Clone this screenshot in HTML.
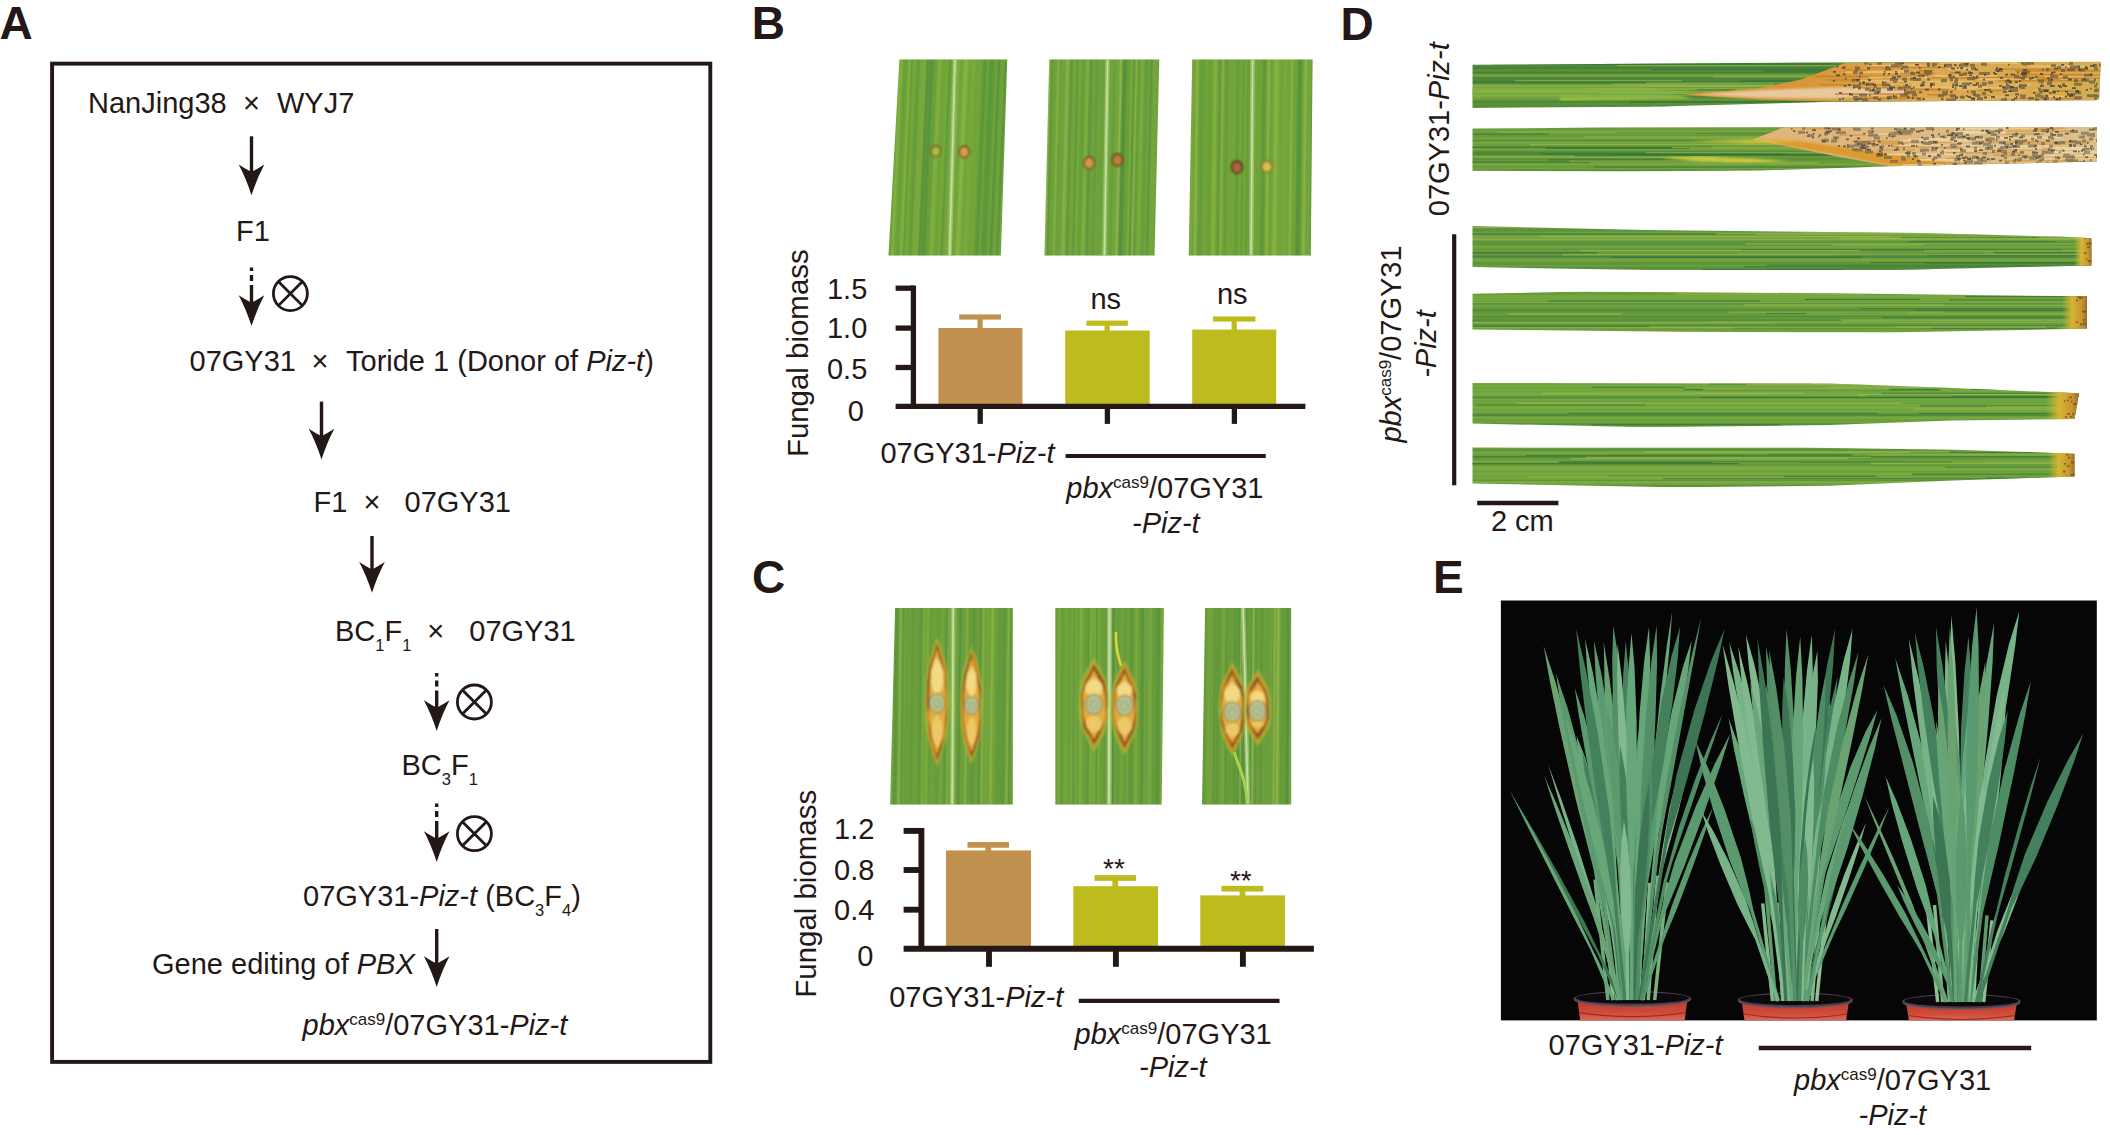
<!DOCTYPE html>
<html lang="en">
<head>
<meta charset="utf-8">
<title>Figure</title>
<style>
html,body{margin:0;padding:0;background:#fff;}
body{width:2110px;height:1135px;overflow:hidden;}
svg{display:block;}
text{font-family:"Liberation Sans",sans-serif;fill:#231815;}
.pl{font-weight:bold;font-size:46px;}
</style>
</head>
<body>
<svg width="2110" height="1135" viewBox="0 0 2110 1135">
<rect x="0" y="0" width="2110" height="1135" fill="#ffffff"/>
<defs><filter id="soft" x="-10%" y="-10%" width="120%" height="120%"><feGaussianBlur stdDeviation="0.9"/></filter>
<filter id="soft2" x="-5%" y="-5%" width="110%" height="110%"><feGaussianBlur stdDeviation="0.45"/></filter></defs>
<g id="panel-letters"><text class="pl" x="-0.6" y="39">A</text><text class="pl" x="751.8" y="38.9">B</text><text class="pl" x="752" y="592.8">C</text><text class="pl" x="1340.5" y="39.5">D</text><text class="pl" x="1433" y="593.4">E</text></g>
<g id="panelA"><rect x="52.1" y="63.65" width="658.2" height="998.25" fill="none" stroke="#231815" stroke-width="3.9"/><text x="88" y="113.3" font-size="29" text-anchor="start" >NanJing38</text><text x="251.4" y="112.6" font-size="29" text-anchor="middle" >×</text><text x="277" y="113.3" font-size="29" text-anchor="start" >WYJ7</text><path d="M251.5 136.3V173.0" stroke="#231815" stroke-width="3.4" fill="none"/><path d="M251.5 195.3Q245.9 178.10000000000002 238.7 164.60000000000002Q245.5 169.0 251.5 172.0Q257.5 169.0 264.3 164.60000000000002Q257.1 178.10000000000002 251.5 195.3Z" fill="#231815"/><text x="236" y="241" font-size="29" text-anchor="start" >F1</text><path d="M251.5 267.4V270.9M251.5 275.0V281.0M251.5 284.9V303.7" stroke="#231815" stroke-width="3.4" fill="none"/><path d="M251.5 326Q245.9 308.8 238.7 295.3Q245.5 299.7 251.5 302.7Q257.5 299.7 264.3 295.3Q257.1 308.8 251.5 326Z" fill="#231815"/><circle cx="290.4" cy="293.6" r="17.0" fill="none" stroke="#231815" stroke-width="2.8"/><path d="M278.3793 281.57930000000005L302.42069999999995 305.6207M302.42069999999995 281.57930000000005L278.3793 305.6207" stroke="#231815" stroke-width="2.8" fill="none"/><text x="189.5" y="371.4" font-size="29" text-anchor="start" >07GY31</text><text x="320" y="371.2" font-size="29" text-anchor="middle" >×</text><text x="346" y="371.4" font-size="29" text-anchor="start" >Toride 1 (Donor of <tspan font-style="italic">Piz-t</tspan>)</text><path d="M321.5 401.6V437.2" stroke="#231815" stroke-width="3.4" fill="none"/><path d="M321.5 459.5Q315.9 442.3 308.7 428.8Q315.5 433.2 321.5 436.2Q327.5 433.2 334.3 428.8Q327.1 442.3 321.5 459.5Z" fill="#231815"/><text x="313.5" y="512" font-size="29" text-anchor="start" >F1</text><text x="372" y="512" font-size="29" text-anchor="middle" >×</text><text x="404.5" y="512" font-size="29" text-anchor="start" >07GY31</text><path d="M372 536V570.4000000000001" stroke="#231815" stroke-width="3.4" fill="none"/><path d="M372 592.7Q366.4 575.5 359.2 562.0Q366 566.4000000000001 372 569.4000000000001Q378 566.4000000000001 384.8 562.0Q377.6 575.5 372 592.7Z" fill="#231815"/><text x="335" y="641.4" font-size="29" text-anchor="start" >BC<tspan font-size="16.5" dy="10">1</tspan><tspan dy="-10">F</tspan><tspan font-size="16.5" dy="10">1</tspan><tspan dy="-10"></tspan></text><text x="435.7" y="641.4" font-size="29" text-anchor="middle" >×</text><text x="469.3" y="641.4" font-size="29" text-anchor="start" >07GY31</text><path d="M436.7 673V676.5M436.7 680.6V686.6M436.7 690.5V708.7" stroke="#231815" stroke-width="3.4" fill="none"/><path d="M436.7 731Q431.09999999999997 713.8 423.9 700.3Q430.7 704.7 436.7 707.7Q442.7 704.7 449.5 700.3Q442.3 713.8 436.7 731Z" fill="#231815"/><circle cx="474.4" cy="702" r="17.0" fill="none" stroke="#231815" stroke-width="2.8"/><path d="M462.3793 689.9793L486.42069999999995 714.0207M486.42069999999995 689.9793L462.3793 714.0207" stroke="#231815" stroke-width="2.8" fill="none"/><text x="401.5" y="775" font-size="29" text-anchor="start" >BC<tspan font-size="16.5" dy="10">3</tspan><tspan dy="-10">F</tspan><tspan font-size="16.5" dy="10">1</tspan><tspan dy="-10"></tspan></text><path d="M436.7 803.5V807.0M436.7 811.1V817.1M436.7 821.0V839.7" stroke="#231815" stroke-width="3.4" fill="none"/><path d="M436.7 862Q431.09999999999997 844.8 423.9 831.3Q430.7 835.7 436.7 838.7Q442.7 835.7 449.5 831.3Q442.3 844.8 436.7 862Z" fill="#231815"/><circle cx="474.4" cy="833.7" r="17.0" fill="none" stroke="#231815" stroke-width="2.8"/><path d="M462.3793 821.6793L486.42069999999995 845.7207000000001M486.42069999999995 821.6793L462.3793 845.7207000000001" stroke="#231815" stroke-width="2.8" fill="none"/><text x="303" y="905.5" font-size="29" text-anchor="start" >07GY31-<tspan font-style="italic">Piz-t</tspan> (BC<tspan font-size="16.5" dy="10">3</tspan><tspan dy="-10">F</tspan><tspan font-size="16.5" dy="10">4</tspan><tspan dy="-10">)</tspan></text><path d="M436.7 929V964.7" stroke="#231815" stroke-width="3.4" fill="none"/><path d="M436.7 987Q431.09999999999997 969.8 423.9 956.3Q430.7 960.7 436.7 963.7Q442.7 960.7 449.5 956.3Q442.3 969.8 436.7 987Z" fill="#231815"/><text x="152" y="974.2" font-size="29" text-anchor="start" >Gene editing of <tspan font-style="italic">PBX</tspan></text><text x="302.5" y="1034.5" font-size="29" text-anchor="start" ><tspan font-style="italic">pbx</tspan><tspan font-size="17" dy="-10">cas9</tspan><tspan dy="10">/07GY31-</tspan><tspan font-style="italic">Piz-t</tspan></text></g>
<g id="panelB"><defs><linearGradient id="sg1" x1="0" y1="0" x2="1" y2="0"><stop offset="0.000" stop-color="#6ba039"/><stop offset="0.016" stop-color="#76a73b"/><stop offset="0.031" stop-color="#77a93b"/><stop offset="0.047" stop-color="#6ba139"/><stop offset="0.062" stop-color="#61993b"/><stop offset="0.078" stop-color="#6ba039"/><stop offset="0.094" stop-color="#7baa3e"/><stop offset="0.109" stop-color="#6ca139"/><stop offset="0.125" stop-color="#6ea338"/><stop offset="0.141" stop-color="#5d973c"/><stop offset="0.156" stop-color="#6ea338"/><stop offset="0.172" stop-color="#84b142"/><stop offset="0.188" stop-color="#70a438"/><stop offset="0.203" stop-color="#689e39"/><stop offset="0.219" stop-color="#70a438"/><stop offset="0.234" stop-color="#84b142"/><stop offset="0.250" stop-color="#659c39"/><stop offset="0.266" stop-color="#77a93b"/><stop offset="0.281" stop-color="#6da238"/><stop offset="0.297" stop-color="#619a3b"/><stop offset="0.312" stop-color="#75a73a"/><stop offset="0.328" stop-color="#77a83b"/><stop offset="0.344" stop-color="#7aaa3c"/><stop offset="0.359" stop-color="#58933c"/><stop offset="0.375" stop-color="#5f983c"/><stop offset="0.391" stop-color="#58923c"/><stop offset="0.406" stop-color="#689f39"/><stop offset="0.422" stop-color="#6a9f39"/><stop offset="0.438" stop-color="#82ae41"/><stop offset="0.453" stop-color="#7bac3d"/><stop offset="0.469" stop-color="#6ea238"/><stop offset="0.484" stop-color="#71a538"/><stop offset="0.500" stop-color="#77a83b"/><stop offset="0.516" stop-color="#5f983b"/><stop offset="0.531" stop-color="#73a639"/><stop offset="0.547" stop-color="#77a93b"/><stop offset="0.562" stop-color="#70a438"/><stop offset="0.578" stop-color="#82ae41"/><stop offset="0.594" stop-color="#6ea238"/><stop offset="0.609" stop-color="#75a83b"/><stop offset="0.625" stop-color="#89b544"/><stop offset="0.641" stop-color="#7ead3f"/><stop offset="0.656" stop-color="#6fa338"/><stop offset="0.672" stop-color="#77a83c"/><stop offset="0.688" stop-color="#78a93b"/><stop offset="0.703" stop-color="#71a538"/><stop offset="0.719" stop-color="#71a539"/><stop offset="0.734" stop-color="#73a63a"/><stop offset="0.750" stop-color="#639b39"/><stop offset="0.766" stop-color="#5b953c"/><stop offset="0.781" stop-color="#70a438"/><stop offset="0.797" stop-color="#5e983c"/><stop offset="0.812" stop-color="#5c963b"/><stop offset="0.828" stop-color="#639b3b"/><stop offset="0.844" stop-color="#71a538"/><stop offset="0.859" stop-color="#55913c"/><stop offset="0.875" stop-color="#6ca139"/><stop offset="0.891" stop-color="#70a438"/><stop offset="0.906" stop-color="#59933c"/><stop offset="0.922" stop-color="#73a639"/><stop offset="0.938" stop-color="#5e983c"/><stop offset="0.953" stop-color="#77a93b"/><stop offset="0.969" stop-color="#70a438"/><stop offset="0.984" stop-color="#6aa039"/><stop offset="1.000" stop-color="#71a538"/></linearGradient><clipPath id="cp2"><path d="M899.4 59.2L1007.3 59.2L1000.8 255.8L888.5 255.8Z"/></clipPath></defs><g clip-path="url(#cp2)"><g transform="translate(0 59.2) skewX(-2.53) translate(0 -59.2)"><rect x="876.5" y="59.2" width="142.79999999999995" height="196.60000000000002" fill="url(#sg1)"/></g><path d="M955 59.2L949.6 255.8" stroke="#b4d58c" stroke-width="4.4" opacity=".55"/><path d="M955 59.2L949.6 255.8" stroke="#cfe3a8" stroke-width="1.54" opacity=".9"/><g filter="url(#soft)"><ellipse cx="935.8" cy="151.2" rx="5.6" ry="6.2" fill="#7a5a22"/><ellipse cx="935.8" cy="151.5" rx="3.9999999999999996" ry="4.5" fill="#a6c03c"/></g><g filter="url(#soft)"><ellipse cx="964.2" cy="151.6" rx="5.8" ry="6.4" fill="#7a4a20"/><ellipse cx="964.2" cy="151.9" rx="4.199999999999999" ry="4.7" fill="#d2a04c"/></g></g><defs><linearGradient id="sg3" x1="0" y1="0" x2="1" y2="0"><stop offset="0.000" stop-color="#689d3a"/><stop offset="0.016" stop-color="#7daa41"/><stop offset="0.031" stop-color="#77a83c"/><stop offset="0.047" stop-color="#6a9f3a"/><stop offset="0.062" stop-color="#689d3b"/><stop offset="0.078" stop-color="#6da13a"/><stop offset="0.094" stop-color="#6fa23b"/><stop offset="0.109" stop-color="#649b3a"/><stop offset="0.125" stop-color="#90b54a"/><stop offset="0.141" stop-color="#5c963d"/><stop offset="0.156" stop-color="#6da13a"/><stop offset="0.172" stop-color="#6da13b"/><stop offset="0.188" stop-color="#83b043"/><stop offset="0.203" stop-color="#6b9f3a"/><stop offset="0.219" stop-color="#6fa23b"/><stop offset="0.234" stop-color="#6ea23b"/><stop offset="0.250" stop-color="#88b046"/><stop offset="0.266" stop-color="#7bab3e"/><stop offset="0.281" stop-color="#5b953d"/><stop offset="0.297" stop-color="#70a33b"/><stop offset="0.312" stop-color="#74a53e"/><stop offset="0.328" stop-color="#60983c"/><stop offset="0.344" stop-color="#79a93f"/><stop offset="0.359" stop-color="#6ca03a"/><stop offset="0.375" stop-color="#659c3a"/><stop offset="0.391" stop-color="#7dac3e"/><stop offset="0.406" stop-color="#7cab3e"/><stop offset="0.422" stop-color="#5a943c"/><stop offset="0.438" stop-color="#6ca03a"/><stop offset="0.453" stop-color="#6fa23b"/><stop offset="0.469" stop-color="#659b3b"/><stop offset="0.484" stop-color="#70a33c"/><stop offset="0.500" stop-color="#6ea13b"/><stop offset="0.516" stop-color="#6ca03a"/><stop offset="0.531" stop-color="#73a53c"/><stop offset="0.547" stop-color="#6ca03a"/><stop offset="0.562" stop-color="#70a33b"/><stop offset="0.578" stop-color="#71a43b"/><stop offset="0.594" stop-color="#669c3b"/><stop offset="0.609" stop-color="#73a53d"/><stop offset="0.625" stop-color="#74a53d"/><stop offset="0.641" stop-color="#93b64b"/><stop offset="0.656" stop-color="#59933c"/><stop offset="0.672" stop-color="#55903d"/><stop offset="0.688" stop-color="#699e3a"/><stop offset="0.703" stop-color="#6a9f3a"/><stop offset="0.719" stop-color="#7cab3e"/><stop offset="0.734" stop-color="#5b943c"/><stop offset="0.750" stop-color="#88b046"/><stop offset="0.766" stop-color="#649b3a"/><stop offset="0.781" stop-color="#6fa23b"/><stop offset="0.797" stop-color="#7ead3e"/><stop offset="0.812" stop-color="#699e3b"/><stop offset="0.828" stop-color="#679c3b"/><stop offset="0.844" stop-color="#70a33b"/><stop offset="0.859" stop-color="#5c963d"/><stop offset="0.875" stop-color="#73a43d"/><stop offset="0.891" stop-color="#76a63e"/><stop offset="0.906" stop-color="#6fa23b"/><stop offset="0.922" stop-color="#679d3b"/><stop offset="0.938" stop-color="#6ba03a"/><stop offset="0.953" stop-color="#679d3b"/><stop offset="0.969" stop-color="#6ea23b"/><stop offset="0.984" stop-color="#73a53b"/><stop offset="1.000" stop-color="#5c953c"/></linearGradient><clipPath id="cp4"><path d="M1049.2 59.2L1159.3 59.2L1154.5 255.8L1044.4 255.8Z"/></clipPath></defs><g clip-path="url(#cp4)"><g transform="translate(0 59.2) skewX(-1.40) translate(0 -59.2)"><rect x="1032.4" y="59.2" width="138.89999999999986" height="196.60000000000002" fill="url(#sg3)"/></g><path d="M1107.6 59.2L1104.4 255.8" stroke="#b4d58c" stroke-width="4.4" opacity=".55"/><path d="M1107.6 59.2L1104.4 255.8" stroke="#cfe3a8" stroke-width="1.54" opacity=".9"/><g filter="url(#soft)"><ellipse cx="1089.1" cy="162.7" rx="6" ry="6.8" fill="#7a4a20"/><ellipse cx="1089.1" cy="163.0" rx="4.4" ry="5.1" fill="#cf9a46"/></g><g filter="url(#soft)"><ellipse cx="1117.4" cy="159.9" rx="6" ry="6.8" fill="#6a3f1c"/><ellipse cx="1117.4" cy="160.20000000000002" rx="4.4" ry="5.1" fill="#b8803c"/></g></g><defs><linearGradient id="sg5" x1="0" y1="0" x2="1" y2="0"><stop offset="0.000" stop-color="#86b243"/><stop offset="0.016" stop-color="#6ea138"/><stop offset="0.031" stop-color="#70a238"/><stop offset="0.047" stop-color="#6da038"/><stop offset="0.062" stop-color="#80ae3e"/><stop offset="0.078" stop-color="#74a53a"/><stop offset="0.094" stop-color="#6ea138"/><stop offset="0.109" stop-color="#7aa83e"/><stop offset="0.125" stop-color="#70a338"/><stop offset="0.141" stop-color="#8eb448"/><stop offset="0.156" stop-color="#6da038"/><stop offset="0.172" stop-color="#649b39"/><stop offset="0.188" stop-color="#6ba039"/><stop offset="0.203" stop-color="#73a53a"/><stop offset="0.219" stop-color="#6ea138"/><stop offset="0.234" stop-color="#679d39"/><stop offset="0.250" stop-color="#78a93b"/><stop offset="0.266" stop-color="#85b142"/><stop offset="0.281" stop-color="#6ea138"/><stop offset="0.297" stop-color="#60983b"/><stop offset="0.312" stop-color="#88b044"/><stop offset="0.328" stop-color="#6fa238"/><stop offset="0.344" stop-color="#649b39"/><stop offset="0.359" stop-color="#75a63b"/><stop offset="0.375" stop-color="#72a439"/><stop offset="0.391" stop-color="#75a63b"/><stop offset="0.406" stop-color="#6b9f39"/><stop offset="0.422" stop-color="#659c39"/><stop offset="0.438" stop-color="#77a73b"/><stop offset="0.453" stop-color="#659c39"/><stop offset="0.469" stop-color="#75a73a"/><stop offset="0.484" stop-color="#669c39"/><stop offset="0.500" stop-color="#70a238"/><stop offset="0.516" stop-color="#6a9f39"/><stop offset="0.531" stop-color="#79a83d"/><stop offset="0.547" stop-color="#6fa238"/><stop offset="0.562" stop-color="#71a339"/><stop offset="0.578" stop-color="#6ca039"/><stop offset="0.594" stop-color="#5b943b"/><stop offset="0.609" stop-color="#6fa238"/><stop offset="0.625" stop-color="#8cb346"/><stop offset="0.641" stop-color="#6da138"/><stop offset="0.656" stop-color="#72a439"/><stop offset="0.672" stop-color="#88b343"/><stop offset="0.688" stop-color="#7fad3f"/><stop offset="0.703" stop-color="#72a439"/><stop offset="0.719" stop-color="#71a339"/><stop offset="0.734" stop-color="#79a93c"/><stop offset="0.750" stop-color="#73a539"/><stop offset="0.766" stop-color="#72a439"/><stop offset="0.781" stop-color="#8ab145"/><stop offset="0.797" stop-color="#6fa238"/><stop offset="0.812" stop-color="#70a339"/><stop offset="0.828" stop-color="#57923c"/><stop offset="0.844" stop-color="#5a943c"/><stop offset="0.859" stop-color="#75a63a"/><stop offset="0.875" stop-color="#8cb347"/><stop offset="0.891" stop-color="#70a238"/><stop offset="0.906" stop-color="#77a83c"/><stop offset="0.922" stop-color="#5d963c"/><stop offset="0.938" stop-color="#77a73c"/><stop offset="0.953" stop-color="#6da038"/><stop offset="0.969" stop-color="#61983a"/><stop offset="0.984" stop-color="#7cab3e"/><stop offset="1.000" stop-color="#84b042"/></linearGradient><clipPath id="cp6"><path d="M1192.2 59.2L1312.6 59.2L1310.8 255.8L1188.7 255.8Z"/></clipPath></defs><g clip-path="url(#cp6)"><g transform="translate(0 59.2) skewX(-0.77) translate(0 -59.2)"><rect x="1176.7" y="59.2" width="147.89999999999986" height="196.60000000000002" fill="url(#sg5)"/></g><path d="M1252.6 59.2L1251.1 255.8" stroke="#b4d58c" stroke-width="4.4" opacity=".55"/><path d="M1252.6 59.2L1251.1 255.8" stroke="#cfe3a8" stroke-width="1.54" opacity=".9"/><g filter="url(#soft)"><ellipse cx="1236.9" cy="167.1" rx="6.2" ry="6.8" fill="#5a2f1a"/><ellipse cx="1236.9" cy="167.4" rx="4.6" ry="5.1" fill="#a8683a"/></g><g filter="url(#soft)"><ellipse cx="1266.8" cy="166.4" rx="5.8" ry="6.4" fill="#8a7a2a"/><ellipse cx="1266.8" cy="166.70000000000002" rx="4.199999999999999" ry="4.7" fill="#d8c24a"/></g></g><rect x="938.4" y="328" width="84.0" height="78.39999999999998" fill="#C1924F"/><rect x="959.2" y="314.4" width="41.799999999999955" height="5.2" fill="#C1924F"/><rect x="977.5" y="317" width="5.2" height="12" fill="#C1924F"/><rect x="1065.2" y="330.5" width="84.5" height="75.89999999999998" fill="#BDBB1E"/><rect x="1086.5" y="320.59999999999997" width="41.299999999999955" height="5.2" fill="#BDBB1E"/><rect x="1104.5500000000002" y="323.2" width="5.2" height="8.300000000000011" fill="#BDBB1E"/><rect x="1192.2" y="329.6" width="84.0" height="76.79999999999995" fill="#BDBB1E"/><rect x="1213" y="316.4" width="42.40000000000009" height="5.2" fill="#BDBB1E"/><rect x="1231.6000000000001" y="319" width="5.2" height="11.600000000000023" fill="#BDBB1E"/><path d="M913.4 285.55V409.04999999999995M895.6 406.4H1305.4" stroke="#231815" stroke-width="5.3" fill="none"/><path d="M895.6 288.2H913.4" stroke="#231815" stroke-width="5.3"/><path d="M895.6 328.1H913.4" stroke="#231815" stroke-width="5.3"/><path d="M895.6 367.5H913.4" stroke="#231815" stroke-width="5.3"/><path d="M980.2 406.4V423.9" stroke="#231815" stroke-width="5.3"/><path d="M1107.4 406.4V423.9" stroke="#231815" stroke-width="5.3"/><path d="M1234.4 406.4V423.9" stroke="#231815" stroke-width="5.3"/><text x="1105.7" y="309" font-size="29" text-anchor="middle" >ns</text><text x="1232.2" y="304.4" font-size="29" text-anchor="middle" >ns</text><text x="867.3" y="299.3" font-size="29" text-anchor="end" >1.5</text><text x="867.3" y="338.2" font-size="29" text-anchor="end" >1.0</text><text x="867.3" y="379.2" font-size="29" text-anchor="end" >0.5</text><text x="864" y="420.7" font-size="29" text-anchor="end" >0</text><text font-size="29.45" text-anchor="middle" transform="translate(808.3 353.2) rotate(-90)">Fungal biomass</text><text x="880.4" y="462.6" font-size="29" text-anchor="start" >07GY31-<tspan font-style="italic">Piz-t</tspan></text><path d="M1065.6 455.9H1265.8" stroke="#231815" stroke-width="4"/><text x="1066.3" y="498.3" font-size="29" text-anchor="start" ><tspan font-style="italic">pbx</tspan><tspan font-size="17" dy="-10">cas9</tspan><tspan dy="10">/07GY31</tspan></text><text x="1132" y="532.8" font-size="29" text-anchor="start" ><tspan font-style="italic">-Piz-t</tspan></text></g>
<g id="panelC"><defs><linearGradient id="sg7" x1="0" y1="0" x2="1" y2="0"><stop offset="0.000" stop-color="#669c3a"/><stop offset="0.016" stop-color="#8cb646"/><stop offset="0.031" stop-color="#6d9f3a"/><stop offset="0.047" stop-color="#6ea03a"/><stop offset="0.062" stop-color="#80ab42"/><stop offset="0.078" stop-color="#76a63d"/><stop offset="0.094" stop-color="#7aa73f"/><stop offset="0.109" stop-color="#75a43d"/><stop offset="0.125" stop-color="#5a933c"/><stop offset="0.141" stop-color="#679b3b"/><stop offset="0.156" stop-color="#87b244"/><stop offset="0.172" stop-color="#60983c"/><stop offset="0.188" stop-color="#70a13a"/><stop offset="0.203" stop-color="#689d3a"/><stop offset="0.219" stop-color="#6fa03a"/><stop offset="0.234" stop-color="#639a3a"/><stop offset="0.250" stop-color="#6b9e3a"/><stop offset="0.266" stop-color="#6da03a"/><stop offset="0.281" stop-color="#699d3b"/><stop offset="0.297" stop-color="#5c953d"/><stop offset="0.312" stop-color="#7aaa3d"/><stop offset="0.328" stop-color="#72a33b"/><stop offset="0.344" stop-color="#7eac3e"/><stop offset="0.359" stop-color="#639a3a"/><stop offset="0.375" stop-color="#6fa13a"/><stop offset="0.391" stop-color="#6d9f3a"/><stop offset="0.406" stop-color="#689d3b"/><stop offset="0.422" stop-color="#679c3a"/><stop offset="0.438" stop-color="#76a63c"/><stop offset="0.453" stop-color="#6fa13a"/><stop offset="0.469" stop-color="#5d963d"/><stop offset="0.484" stop-color="#7cab3e"/><stop offset="0.500" stop-color="#72a33b"/><stop offset="0.516" stop-color="#699d3b"/><stop offset="0.531" stop-color="#74a43d"/><stop offset="0.547" stop-color="#6fa13b"/><stop offset="0.562" stop-color="#57913d"/><stop offset="0.578" stop-color="#6d9f3a"/><stop offset="0.594" stop-color="#6c9f3a"/><stop offset="0.609" stop-color="#81ae42"/><stop offset="0.625" stop-color="#679c3b"/><stop offset="0.641" stop-color="#689c3b"/><stop offset="0.656" stop-color="#5c953d"/><stop offset="0.672" stop-color="#6a9e3a"/><stop offset="0.688" stop-color="#6d9f3a"/><stop offset="0.703" stop-color="#5a933c"/><stop offset="0.719" stop-color="#85ae45"/><stop offset="0.734" stop-color="#6fa03a"/><stop offset="0.750" stop-color="#76a53e"/><stop offset="0.766" stop-color="#6fa13a"/><stop offset="0.781" stop-color="#89b445"/><stop offset="0.797" stop-color="#71a23b"/><stop offset="0.812" stop-color="#6b9e3a"/><stop offset="0.828" stop-color="#61983c"/><stop offset="0.844" stop-color="#669c3a"/><stop offset="0.859" stop-color="#5e973c"/><stop offset="0.875" stop-color="#639a3a"/><stop offset="0.891" stop-color="#85b143"/><stop offset="0.906" stop-color="#5f963c"/><stop offset="0.922" stop-color="#6ea03a"/><stop offset="0.938" stop-color="#6b9f3a"/><stop offset="0.953" stop-color="#61983c"/><stop offset="0.969" stop-color="#77a63e"/><stop offset="0.984" stop-color="#679c3a"/><stop offset="1.000" stop-color="#6c9f3a"/></linearGradient><clipPath id="cp8"><path d="M895.1 608.1L1012.8 608.1L1012.8 804.7L890.1 804.7Z"/></clipPath></defs><g clip-path="url(#cp8)"><g transform="translate(0 608.1) skewX(-0.73) translate(0 -608.1)"><rect x="878.1" y="608.1" width="146.69999999999993" height="196.60000000000002" fill="url(#sg7)"/></g><path d="M953.2 608.1L952.2 804.7" stroke="#b4d58c" stroke-width="4.6" opacity=".55"/><path d="M953.2 608.1L952.2 804.7" stroke="#cfe3a8" stroke-width="1.68" opacity=".9"/><g filter="url(#soft)"><path d="M937.1 636.2L932.5 649.3L927.8 665.0L925.1 682.1L925.0 701.7L924.6 721.4L927.9 738.4L932.6 754.1L937.1 767.2L941.3 754.1L946.6 738.4L948.5 721.4L949.7 701.7L949.0 682.1L946.4 665.0L941.7 649.3L937.1 636.2Z" fill="#c9c238" opacity=".5"/><path d="M937.1 640.2L933.4 652.5L928.3 667.3L927.6 683.2L925.6 701.7L927.7 720.2L928.3 736.1L932.0 750.9L937.1 763.2L940.7 750.9L945.2 736.1L947.2 720.2L947.7 701.7L946.5 683.2L946.2 667.3L941.1 652.5L937.1 640.2Z" fill="#d98f24"/><path d="M937.1 643.2L933.6 654.9L928.9 668.9L926.9 684.2L926.9 701.7L928.4 719.2L929.8 734.5L934.5 748.5L937.1 760.2L941.8 748.5L943.9 734.5L946.7 719.2L945.6 701.7L946.5 684.2L944.1 668.9L940.4 654.9L937.1 643.2Z" fill="#8a5a24"/><path d="M937.1 649.2L933.6 659.7L930.9 672.3L929.6 686.0L929.3 701.7L928.6 717.5L931.2 731.1L933.8 743.7L937.1 754.2L940.5 743.7L944.2 731.1L945.4 717.5L945.7 701.7L945.2 686.0L944.0 672.3L939.7 659.7L937.1 649.2Z" fill="#e4ac3e"/><path d="M937.1 657.2L934.5 661.2L932.7 666.0L930.8 671.2L931.3 677.2L931.0 683.2L932.4 688.4L934.8 693.2L937.1 697.2L939.3 693.2L942.2 688.4L942.9 683.2L943.3 677.2L943.1 671.2L941.7 666.0L938.9 661.2L937.1 657.2Z" fill="#f3de8a" opacity=".9"/><path d="M937.1 713.2L935.2 716.7L932.3 720.9L932.4 725.5L931.6 730.7L931.8 736.0L933.2 740.5L935.4 744.7L937.1 748.2L938.9 744.7L941.4 740.5L943.0 736.0L942.1 730.7L942.5 725.5L941.6 720.9L938.4 716.7L937.1 713.2Z" fill="#efd070" opacity=".8"/><ellipse cx="937.1" cy="703.2" rx="7.9" ry="9.700000000000001" fill="#b7c08e" stroke="#6e6a44" stroke-width="1" stroke-opacity=".75"/><ellipse cx="937.1" cy="703.7" rx="3.555" ry="3.95" fill="none" stroke="#8d9c7c" stroke-width="1" stroke-opacity=".8"/></g><g filter="url(#soft)"><path d="M971.4 645.0L968.0 657.0L961.9 671.4L960.6 687.0L960.2 705.0L960.3 723.0L962.5 738.6L966.8 753.0L971.4 765.0L975.8 753.0L980.0 738.6L982.7 723.0L982.6 705.0L982.9 687.0L979.9 671.4L975.9 657.0L971.4 645.0Z" fill="#c9c238" opacity=".5"/><path d="M971.4 649.0L968.5 660.2L964.7 673.6L961.8 688.2L960.8 705.0L961.8 721.8L963.6 736.4L967.7 749.8L971.4 761.0L975.3 749.8L979.8 736.4L980.5 721.8L980.1 705.0L980.4 688.2L979.1 673.6L975.7 660.2L971.4 649.0Z" fill="#d98f24"/><path d="M971.4 652.0L967.7 662.6L964.0 675.3L962.7 689.1L962.9 705.0L963.6 720.9L965.0 734.7L968.6 747.4L971.4 758.0L975.6 747.4L979.3 734.7L980.8 720.9L979.5 705.0L981.3 689.1L977.5 675.3L973.3 662.6L971.4 652.0Z" fill="#8a5a24"/><path d="M971.4 658.0L968.6 667.4L966.2 678.7L964.4 690.9L963.8 705.0L964.0 719.1L965.5 731.3L968.2 742.6L971.4 752.0L975.0 742.6L977.9 731.3L979.5 719.1L979.0 705.0L979.1 690.9L976.8 678.7L974.8 667.4L971.4 658.0Z" fill="#e4ac3e"/><path d="M971.4 666.0L970.1 669.3L967.4 673.3L966.6 677.7L965.9 682.7L966.5 687.7L967.8 692.1L969.9 696.1L971.4 699.4L973.2 696.1L975.2 692.1L976.1 687.7L976.4 682.7L976.5 677.7L976.0 673.3L973.1 669.3L971.4 666.0Z" fill="#f3de8a" opacity=".9"/><path d="M971.4 715.4L970.4 718.5L967.8 722.1L967.1 726.1L966.6 730.7L966.9 735.3L967.9 739.3L970.0 742.9L971.4 746.0L973.5 742.9L974.5 739.3L976.4 735.3L975.6 730.7L976.0 726.1L975.0 722.1L973.2 718.5L971.4 715.4Z" fill="#efd070" opacity=".8"/><ellipse cx="971.4" cy="705.4" rx="7.1" ry="8.9" fill="#b7c08e" stroke="#6e6a44" stroke-width="1" stroke-opacity=".75"/><ellipse cx="971.4" cy="705.9" rx="3.195" ry="3.55" fill="none" stroke="#8d9c7c" stroke-width="1" stroke-opacity=".8"/></g></g><defs><linearGradient id="sg9" x1="0" y1="0" x2="1" y2="0"><stop offset="0.000" stop-color="#6ea13b"/><stop offset="0.016" stop-color="#6ea03b"/><stop offset="0.031" stop-color="#639a3a"/><stop offset="0.047" stop-color="#6da03a"/><stop offset="0.062" stop-color="#70a23b"/><stop offset="0.078" stop-color="#649b3a"/><stop offset="0.094" stop-color="#669b3b"/><stop offset="0.109" stop-color="#6fa23b"/><stop offset="0.125" stop-color="#7caa40"/><stop offset="0.141" stop-color="#639a3a"/><stop offset="0.156" stop-color="#6c9f3a"/><stop offset="0.172" stop-color="#74a53c"/><stop offset="0.188" stop-color="#70a23b"/><stop offset="0.203" stop-color="#689d3a"/><stop offset="0.219" stop-color="#77a83c"/><stop offset="0.234" stop-color="#60983c"/><stop offset="0.250" stop-color="#77a63f"/><stop offset="0.266" stop-color="#679c3b"/><stop offset="0.281" stop-color="#7eac41"/><stop offset="0.297" stop-color="#77a73d"/><stop offset="0.312" stop-color="#699d3a"/><stop offset="0.328" stop-color="#6a9e3a"/><stop offset="0.344" stop-color="#5c943c"/><stop offset="0.359" stop-color="#7eaa42"/><stop offset="0.375" stop-color="#71a23c"/><stop offset="0.391" stop-color="#79a93d"/><stop offset="0.406" stop-color="#5f973c"/><stop offset="0.422" stop-color="#79aa3d"/><stop offset="0.438" stop-color="#6c9f3a"/><stop offset="0.453" stop-color="#6a9e3a"/><stop offset="0.469" stop-color="#679c3b"/><stop offset="0.484" stop-color="#5f963c"/><stop offset="0.500" stop-color="#659b3a"/><stop offset="0.516" stop-color="#75a43e"/><stop offset="0.531" stop-color="#548f3d"/><stop offset="0.547" stop-color="#72a33d"/><stop offset="0.562" stop-color="#659b3a"/><stop offset="0.578" stop-color="#6a9e3a"/><stop offset="0.594" stop-color="#74a53c"/><stop offset="0.609" stop-color="#6c9f3a"/><stop offset="0.625" stop-color="#649b3a"/><stop offset="0.641" stop-color="#73a53c"/><stop offset="0.656" stop-color="#60983c"/><stop offset="0.672" stop-color="#5f973c"/><stop offset="0.688" stop-color="#6da03a"/><stop offset="0.703" stop-color="#7baa3d"/><stop offset="0.719" stop-color="#70a23c"/><stop offset="0.734" stop-color="#689c3b"/><stop offset="0.750" stop-color="#56913d"/><stop offset="0.766" stop-color="#6ea03b"/><stop offset="0.781" stop-color="#6d9f3a"/><stop offset="0.797" stop-color="#72a23d"/><stop offset="0.812" stop-color="#7baa40"/><stop offset="0.828" stop-color="#689c3b"/><stop offset="0.844" stop-color="#669c3a"/><stop offset="0.859" stop-color="#5e973c"/><stop offset="0.875" stop-color="#58923d"/><stop offset="0.891" stop-color="#76a73c"/><stop offset="0.906" stop-color="#76a53f"/><stop offset="0.922" stop-color="#80ab43"/><stop offset="0.938" stop-color="#7cab3e"/><stop offset="0.953" stop-color="#6da03a"/><stop offset="0.969" stop-color="#699d3a"/><stop offset="0.984" stop-color="#73a53c"/><stop offset="1.000" stop-color="#7fad41"/></linearGradient><clipPath id="cp10"><path d="M1055.3 608.1L1163.9 608.1L1161.7 804.7L1055.3 804.7Z"/></clipPath></defs><g clip-path="url(#cp10)"><g transform="translate(0 608.1) skewX(-0.32) translate(0 -608.1)"><rect x="1043.3" y="608.1" width="132.60000000000014" height="196.60000000000002" fill="url(#sg9)"/></g><path d="M1109.4 608.1L1109.0 804.7" stroke="#b4d58c" stroke-width="5.2" opacity=".55"/><path d="M1109.4 608.1L1109.0 804.7" stroke="#cfe3a8" stroke-width="2.0999999999999996" opacity=".9"/><path d="M1116 632C1115 650 1119 658 1121 666" stroke="#d8d63a" stroke-width="2.6" fill="none"/><g filter="url(#soft)"><path d="M1093.9 657.0L1088.5 666.5L1082.1 677.9L1079.6 690.2L1078.5 704.5L1079.1 718.8L1082.9 731.1L1088.5 742.5L1093.9 752.0L1099.7 742.5L1105.5 731.1L1108.1 718.8L1109.1 704.5L1107.9 690.2L1105.6 677.9L1099.0 666.5L1093.9 657.0Z" fill="#c9c238" opacity=".5"/><path d="M1093.9 661.0L1089.7 669.7L1083.9 680.1L1081.1 691.5L1081.2 704.5L1081.6 717.5L1083.3 728.9L1089.5 739.3L1093.9 748.0L1099.0 739.3L1103.2 728.9L1106.9 717.5L1106.1 704.5L1107.2 691.5L1104.9 680.1L1097.7 669.7L1093.9 661.0Z" fill="#d98f24"/><path d="M1093.9 664.0L1090.2 672.1L1084.8 681.8L1081.6 692.4L1081.5 704.5L1082.8 716.6L1083.4 727.2L1090.2 736.9L1093.9 745.0L1098.5 736.9L1102.8 727.2L1104.9 716.6L1107.2 704.5L1106.6 692.4L1104.5 681.8L1099.0 672.1L1093.9 664.0Z" fill="#8a5a24"/><path d="M1093.9 670.0L1090.4 676.9L1085.4 685.2L1083.0 694.1L1083.1 704.5L1083.5 714.9L1085.9 723.8L1089.9 732.1L1093.9 739.0L1097.6 732.1L1103.2 723.8L1105.3 714.9L1105.5 704.5L1104.7 694.1L1102.3 685.2L1097.3 676.9L1093.9 670.0Z" fill="#e4ac3e"/><path d="M1093.9 678.0L1091.4 680.0L1087.7 682.5L1085.8 685.1L1085.7 688.1L1085.2 691.2L1087.6 693.8L1090.0 696.3L1093.9 698.3L1097.6 696.3L1101.2 693.8L1101.8 691.2L1102.6 688.1L1102.0 685.1L1100.7 682.5L1097.4 680.0L1093.9 678.0Z" fill="#f3de8a" opacity=".9"/><path d="M1093.9 714.3L1091.1 716.2L1087.4 718.4L1086.5 720.8L1086.1 723.6L1086.4 726.5L1088.1 728.9L1090.8 731.1L1093.9 733.0L1097.6 731.1L1100.7 728.9L1101.5 726.5L1101.3 723.6L1101.2 720.8L1100.5 718.4L1096.2 716.2L1093.9 714.3Z" fill="#efd070" opacity=".8"/><ellipse cx="1093.9" cy="704.3" rx="8.4" ry="10.200000000000001" fill="#b7c08e" stroke="#6e6a44" stroke-width="1" stroke-opacity=".75"/><ellipse cx="1093.9" cy="704.8" rx="3.7800000000000002" ry="4.2" fill="none" stroke="#8d9c7c" stroke-width="1" stroke-opacity=".8"/></g><g filter="url(#soft)"><path d="M1124.6 660.2L1119.6 669.7L1113.8 681.1L1110.7 693.5L1111.4 707.7L1111.5 722.0L1113.9 734.3L1118.8 745.7L1124.6 755.2L1129.5 745.7L1135.1 734.3L1137.7 722.0L1138.6 707.7L1137.9 693.5L1134.9 681.1L1128.8 669.7L1124.6 660.2Z" fill="#c9c238" opacity=".5"/><path d="M1124.6 664.2L1119.9 672.9L1115.9 683.3L1113.5 694.7L1112.3 707.7L1113.4 720.8L1116.0 732.1L1120.1 742.5L1124.6 751.2L1129.6 742.5L1133.1 732.1L1137.0 720.8L1136.8 707.7L1135.7 694.7L1134.6 683.3L1129.5 672.9L1124.6 664.2Z" fill="#d98f24"/><path d="M1124.6 667.2L1120.8 675.3L1115.8 685.0L1114.7 695.6L1113.6 707.7L1114.7 719.9L1116.8 730.4L1120.3 740.1L1124.6 748.2L1128.8 740.1L1134.2 730.4L1135.7 719.9L1135.2 707.7L1136.4 695.6L1132.3 685.0L1127.6 675.3L1124.6 667.2Z" fill="#8a5a24"/><path d="M1124.6 673.2L1121.4 680.1L1116.4 688.4L1115.5 697.4L1114.1 707.7L1114.6 718.1L1116.9 727.0L1121.6 735.3L1124.6 742.2L1128.0 735.3L1132.0 727.0L1134.3 718.1L1134.6 707.7L1133.5 697.4L1132.0 688.4L1127.8 680.1L1124.6 673.2Z" fill="#e4ac3e"/><path d="M1124.6 681.2L1121.9 683.0L1118.9 685.2L1117.1 687.6L1116.9 690.3L1117.8 693.0L1118.2 695.4L1122.0 697.6L1124.6 699.4L1127.7 697.6L1130.1 695.4L1131.4 693.0L1132.1 690.3L1132.2 687.6L1130.2 685.2L1126.8 683.0L1124.6 681.2Z" fill="#f3de8a" opacity=".9"/><path d="M1124.6 715.4L1121.9 717.5L1118.9 720.0L1117.4 722.7L1118.2 725.8L1118.2 728.9L1118.7 731.6L1122.5 734.1L1124.6 736.2L1127.6 734.1L1129.7 731.6L1131.9 728.9L1132.0 725.8L1131.5 722.7L1129.9 720.0L1126.7 717.5L1124.6 715.4Z" fill="#efd070" opacity=".8"/><ellipse cx="1124.6" cy="705.4" rx="8.4" ry="10.200000000000001" fill="#b7c08e" stroke="#6e6a44" stroke-width="1" stroke-opacity=".75"/><ellipse cx="1124.6" cy="705.9" rx="3.7800000000000002" ry="4.2" fill="none" stroke="#8d9c7c" stroke-width="1" stroke-opacity=".8"/></g></g><defs><linearGradient id="sg11" x1="0" y1="0" x2="1" y2="0"><stop offset="0.000" stop-color="#6ea03b"/><stop offset="0.016" stop-color="#659a3a"/><stop offset="0.031" stop-color="#72a23b"/><stop offset="0.047" stop-color="#5f953c"/><stop offset="0.062" stop-color="#6b9d3a"/><stop offset="0.078" stop-color="#6f9f3c"/><stop offset="0.094" stop-color="#679a3a"/><stop offset="0.109" stop-color="#72a23d"/><stop offset="0.125" stop-color="#699b3a"/><stop offset="0.141" stop-color="#649a3a"/><stop offset="0.156" stop-color="#6fa03b"/><stop offset="0.172" stop-color="#76a63c"/><stop offset="0.188" stop-color="#71a13d"/><stop offset="0.203" stop-color="#73a13e"/><stop offset="0.219" stop-color="#5e963c"/><stop offset="0.234" stop-color="#699c3a"/><stop offset="0.250" stop-color="#5f963c"/><stop offset="0.266" stop-color="#699b3a"/><stop offset="0.281" stop-color="#6c9e3a"/><stop offset="0.297" stop-color="#79a93d"/><stop offset="0.312" stop-color="#6d9e3b"/><stop offset="0.328" stop-color="#5d953d"/><stop offset="0.344" stop-color="#6d9e3b"/><stop offset="0.359" stop-color="#639a3a"/><stop offset="0.375" stop-color="#6e9f3c"/><stop offset="0.391" stop-color="#649a3a"/><stop offset="0.406" stop-color="#5d953d"/><stop offset="0.422" stop-color="#689b3a"/><stop offset="0.438" stop-color="#56903d"/><stop offset="0.453" stop-color="#88af46"/><stop offset="0.469" stop-color="#5a923c"/><stop offset="0.484" stop-color="#548f3d"/><stop offset="0.500" stop-color="#5e963c"/><stop offset="0.516" stop-color="#669a3a"/><stop offset="0.531" stop-color="#6a9c3a"/><stop offset="0.547" stop-color="#5f963c"/><stop offset="0.562" stop-color="#90b44a"/><stop offset="0.578" stop-color="#65993b"/><stop offset="0.594" stop-color="#63993a"/><stop offset="0.609" stop-color="#6f9f3c"/><stop offset="0.625" stop-color="#679a3b"/><stop offset="0.641" stop-color="#5e953c"/><stop offset="0.656" stop-color="#6fa03b"/><stop offset="0.672" stop-color="#6d9e3b"/><stop offset="0.688" stop-color="#6c9e3a"/><stop offset="0.703" stop-color="#6b9d3a"/><stop offset="0.719" stop-color="#74a23e"/><stop offset="0.734" stop-color="#6a9c3a"/><stop offset="0.750" stop-color="#86b144"/><stop offset="0.766" stop-color="#75a43c"/><stop offset="0.781" stop-color="#94b64c"/><stop offset="0.797" stop-color="#75a53c"/><stop offset="0.812" stop-color="#679a3b"/><stop offset="0.828" stop-color="#659a3a"/><stop offset="0.844" stop-color="#6b9d3a"/><stop offset="0.859" stop-color="#5b933c"/><stop offset="0.875" stop-color="#58913c"/><stop offset="0.891" stop-color="#74a53c"/><stop offset="0.906" stop-color="#6fa03b"/><stop offset="0.922" stop-color="#7ca742"/><stop offset="0.938" stop-color="#679a3a"/><stop offset="0.953" stop-color="#6d9e3a"/><stop offset="0.969" stop-color="#6d9e3b"/><stop offset="0.984" stop-color="#81ad42"/><stop offset="1.000" stop-color="#548f3d"/></linearGradient><clipPath id="cp12"><path d="M1205.1 608.1L1291.2 608.1L1291.2 804.7L1202 804.7Z"/></clipPath></defs><g clip-path="url(#cp12)"><g transform="translate(0 608.1) skewX(-0.45) translate(0 -608.1)"><rect x="1190" y="608.1" width="113.20000000000005" height="196.60000000000002" fill="url(#sg11)"/></g><path d="M1243.2 608.1L1248 804.7" stroke="#b4d58c" stroke-width="4.6" opacity=".55"/><path d="M1243.2 608.1L1248 804.7" stroke="#cfe3a8" stroke-width="1.68" opacity=".9"/><path d="M1234 752C1240 770 1246 780 1247.5 804" stroke="#a9cf52" stroke-width="3" fill="none"/><g filter="url(#soft)"><path d="M1232.3 661.3L1227.8 670.8L1221.9 682.2L1219.2 694.5L1218.1 708.8L1219.4 723.0L1222.1 735.4L1226.9 746.8L1232.3 756.3L1237.4 746.8L1242.6 735.4L1245.9 723.0L1245.9 708.8L1246.2 694.5L1243.6 682.2L1237.3 670.8L1232.3 661.3Z" fill="#c9c238" opacity=".5"/><path d="M1232.3 665.3L1228.3 674.0L1222.0 684.4L1220.2 695.8L1220.9 708.8L1221.2 721.8L1223.2 733.2L1226.6 743.6L1232.3 752.3L1237.7 743.6L1240.9 733.2L1243.3 721.8L1243.6 708.8L1244.8 695.8L1241.1 684.4L1236.5 674.0L1232.3 665.3Z" fill="#d98f24"/><path d="M1232.3 668.3L1227.8 676.4L1224.7 686.1L1220.9 696.6L1221.3 708.8L1220.7 720.9L1224.0 731.5L1228.9 741.2L1232.3 749.3L1236.2 741.2L1242.1 731.5L1244.3 720.9L1243.8 708.8L1244.3 696.6L1241.9 686.1L1235.4 676.4L1232.3 668.3Z" fill="#8a5a24"/><path d="M1232.3 674.3L1228.7 681.2L1224.1 689.5L1222.4 698.4L1221.7 708.8L1222.4 719.1L1225.1 728.1L1228.2 736.4L1232.3 743.3L1236.1 736.4L1239.9 728.1L1241.6 719.1L1242.4 708.8L1242.1 698.4L1239.3 689.5L1235.1 681.2L1232.3 674.3Z" fill="#e4ac3e"/><path d="M1232.3 682.3L1230.0 684.7L1227.0 687.5L1225.3 690.6L1224.3 694.1L1224.8 697.6L1225.9 700.7L1229.0 703.5L1232.3 705.9L1235.8 703.5L1237.6 700.7L1239.7 697.6L1240.1 694.1L1240.0 690.6L1237.6 687.5L1234.3 684.7L1232.3 682.3Z" fill="#f3de8a" opacity=".9"/><path d="M1232.3 721.9L1229.6 723.4L1227.5 725.3L1225.4 727.3L1225.5 729.6L1225.1 731.9L1227.3 733.9L1229.1 735.8L1232.3 737.3L1235.5 735.8L1238.1 733.9L1239.3 731.9L1239.5 729.6L1238.8 727.3L1238.2 725.3L1235.0 723.4L1232.3 721.9Z" fill="#efd070" opacity=".8"/><ellipse cx="1232.3" cy="711.9" rx="8.4" ry="10.200000000000001" fill="#b7c08e" stroke="#6e6a44" stroke-width="1" stroke-opacity=".75"/><ellipse cx="1232.3" cy="712.4" rx="3.7800000000000002" ry="4.2" fill="none" stroke="#8d9c7c" stroke-width="1" stroke-opacity=".8"/></g><g filter="url(#soft)"><path d="M1257.6 669.0L1253.4 676.8L1247.2 686.0L1244.0 696.1L1244.3 707.8L1244.4 719.4L1246.9 729.5L1252.7 738.8L1257.6 746.5L1262.7 738.8L1268.4 729.5L1270.9 719.4L1271.2 707.8L1270.8 696.1L1267.7 686.0L1262.5 676.8L1257.6 669.0Z" fill="#c9c238" opacity=".5"/><path d="M1257.6 673.0L1253.7 680.0L1247.9 688.3L1246.9 697.3L1246.7 707.8L1247.0 718.2L1247.7 727.2L1253.7 735.5L1257.6 742.5L1262.0 735.5L1267.2 727.2L1268.6 718.2L1269.5 707.8L1268.4 697.3L1266.7 688.3L1261.9 680.0L1257.6 673.0Z" fill="#d98f24"/><path d="M1257.6 676.0L1253.0 682.4L1249.5 690.0L1248.2 698.2L1246.2 707.8L1246.8 717.3L1250.2 725.5L1253.7 733.1L1257.6 739.5L1262.3 733.1L1266.0 725.5L1269.1 717.3L1268.7 707.8L1268.3 698.2L1265.5 690.0L1260.5 682.4L1257.6 676.0Z" fill="#8a5a24"/><path d="M1257.6 682.0L1254.9 687.1L1249.5 693.3L1248.6 700.0L1248.4 707.8L1249.0 715.5L1249.6 722.2L1253.6 728.4L1257.6 733.5L1260.8 728.4L1265.2 722.2L1266.8 715.5L1266.3 707.8L1266.5 700.0L1264.7 693.3L1261.6 687.1L1257.6 682.0Z" fill="#e4ac3e"/><path d="M1257.6 690.0L1255.2 691.5L1251.7 693.3L1250.9 695.2L1250.9 697.4L1250.5 699.6L1252.2 701.5L1254.7 703.3L1257.6 704.8L1260.2 703.3L1262.9 701.5L1265.0 699.6L1264.1 697.4L1263.9 695.2L1263.6 693.3L1259.6 691.5L1257.6 690.0Z" fill="#f3de8a" opacity=".9"/><path d="M1257.6 720.8L1254.9 721.5L1252.0 722.3L1251.6 723.1L1251.8 724.1L1251.9 725.2L1252.8 726.0L1255.0 726.8L1257.6 727.5L1260.5 726.8L1263.1 726.0L1264.4 725.2L1263.7 724.1L1263.8 723.1L1262.5 722.3L1260.4 721.5L1257.6 720.8Z" fill="#efd070" opacity=".8"/><ellipse cx="1257.6" cy="710.8" rx="8.4" ry="10.200000000000001" fill="#b7c08e" stroke="#6e6a44" stroke-width="1" stroke-opacity=".75"/><ellipse cx="1257.6" cy="711.3" rx="3.7800000000000002" ry="4.2" fill="none" stroke="#8d9c7c" stroke-width="1" stroke-opacity=".8"/></g></g><rect x="946" y="850.4" width="85" height="98.30000000000007" fill="#C1924F"/><rect x="967.5" y="842.05" width="41.5" height="5.7" fill="#C1924F"/><rect x="985.4" y="844.9" width="5.7" height="6.5" fill="#C1924F"/><rect x="1073.3" y="886.2" width="84.70000000000005" height="62.5" fill="#BDBB1E"/><rect x="1094.5" y="875.15" width="41.5" height="5.7" fill="#BDBB1E"/><rect x="1112.4" y="878" width="5.7" height="9.200000000000045" fill="#BDBB1E"/><rect x="1200.3" y="895.4" width="84.70000000000005" height="53.30000000000007" fill="#BDBB1E"/><rect x="1221.5" y="885.85" width="41.799999999999955" height="5.7" fill="#BDBB1E"/><rect x="1239.5500000000002" y="888.7" width="5.7" height="7.699999999999932" fill="#BDBB1E"/><path d="M921.4 827.9499999999999V951.6500000000001M903.6 948.7H1313.9" stroke="#231815" stroke-width="5.9" fill="none"/><path d="M903.6 830.9H921.4" stroke="#231815" stroke-width="5.9"/><path d="M903.6 870H921.4" stroke="#231815" stroke-width="5.9"/><path d="M903.6 909.7H921.4" stroke="#231815" stroke-width="5.9"/><path d="M989 948.7V966.8" stroke="#231815" stroke-width="5.9"/><path d="M1115.9 948.7V966.8" stroke="#231815" stroke-width="5.9"/><path d="M1242.9 948.7V966.8" stroke="#231815" stroke-width="5.9"/><text x="1113.9" y="878.4" font-size="28" text-anchor="middle" >**</text><text x="1240.8" y="889.6" font-size="28" text-anchor="middle" >**</text><text x="874.4" y="839.3" font-size="29" text-anchor="end" >1.2</text><text x="874.4" y="879.6" font-size="29" text-anchor="end" >0.8</text><text x="874.4" y="920" font-size="29" text-anchor="end" >0.4</text><text x="873.4" y="966.4" font-size="29" text-anchor="end" >0</text><text font-size="29.45" text-anchor="middle" transform="translate(815.9 893.8) rotate(-90)">Fungal biomass</text><text x="889.2" y="1007" font-size="29" text-anchor="start" >07GY31-<tspan font-style="italic">Piz-t</tspan></text><path d="M1078.8 1000.8H1279.5" stroke="#231815" stroke-width="4.3"/><text x="1074.6" y="1043.5" font-size="29" text-anchor="start" ><tspan font-style="italic">pbx</tspan><tspan font-size="17" dy="-10">cas9</tspan><tspan dy="10">/07GY31</tspan></text><text x="1139" y="1076.5" font-size="29" text-anchor="start" ><tspan font-style="italic">-Piz-t</tspan></text></g>
<g id="panelD"><defs><linearGradient id="les1" x1="0" y1="0" x2="1" y2="0"><stop offset="0" stop-color="#d68c2a"/><stop offset=".3" stop-color="#d8963a"/><stop offset=".6" stop-color="#dba850"/><stop offset="1" stop-color="#d4ae50"/></linearGradient><linearGradient id="les2" x1="0" y1="0" x2="1" y2="0"><stop offset="0" stop-color="#e2b474"/><stop offset=".3" stop-color="#dfb67e"/><stop offset="1" stop-color="#dcc08a"/></linearGradient><linearGradient id="tipg" x1="0" y1="0" x2="1" y2="0"><stop offset="0" stop-color="#c9b830" stop-opacity="0"/><stop offset=".4" stop-color="#d6b432"/><stop offset=".8" stop-color="#c89430"/><stop offset="1" stop-color="#9a6a2a"/></linearGradient></defs><defs><linearGradient id="sg13" x1="0" y1="0" x2="0" y2="1"><stop offset="0.000" stop-color="#528c39"/><stop offset="0.033" stop-color="#568d39"/><stop offset="0.067" stop-color="#478239"/><stop offset="0.100" stop-color="#538c39"/><stop offset="0.133" stop-color="#437b38"/><stop offset="0.167" stop-color="#568d39"/><stop offset="0.200" stop-color="#5c9038"/><stop offset="0.233" stop-color="#457d38"/><stop offset="0.267" stop-color="#64963a"/><stop offset="0.300" stop-color="#79a640"/><stop offset="0.333" stop-color="#5b8f38"/><stop offset="0.367" stop-color="#4b8238"/><stop offset="0.400" stop-color="#568b38"/><stop offset="0.433" stop-color="#3f7838"/><stop offset="0.467" stop-color="#4a8439"/><stop offset="0.500" stop-color="#7aa441"/><stop offset="0.533" stop-color="#8cb147"/><stop offset="0.567" stop-color="#66973b"/><stop offset="0.600" stop-color="#7ba742"/><stop offset="0.633" stop-color="#5c9038"/><stop offset="0.667" stop-color="#5b9038"/><stop offset="0.700" stop-color="#477e38"/><stop offset="0.733" stop-color="#709f3e"/><stop offset="0.767" stop-color="#5b9038"/><stop offset="0.800" stop-color="#5f9339"/><stop offset="0.833" stop-color="#68993c"/><stop offset="0.867" stop-color="#478239"/><stop offset="0.900" stop-color="#5b9038"/><stop offset="0.933" stop-color="#598f38"/><stop offset="0.967" stop-color="#568b38"/><stop offset="1.000" stop-color="#548c39"/></linearGradient><clipPath id="cp14"><path d="M1472.3 64.8L1800 62.6L2100.8 61.7L2099 99.3L2094.5 100.2L1830 101.8L1650 106.8L1472.3 107.9Z"/></clipPath></defs><g clip-path="url(#cp14)"><rect x="1472.3" y="61.7" width="628.5000000000002" height="46.2" fill="url(#sg13)"/><path d="M1763 71.1h123M1480 96.7h339M1797 93.2h276M1687 84.2h249M1492 63.9h342M1729 106.4h305M1651 69.6h342M1630 101.9h316M1723 91.1h322M1594 94.8h242M1659 106.8h348M1697 89.6h158M1742 80.9h197M1750 84.0h292" stroke="#2f6e38" stroke-width="1.1" opacity=".7" fill="none"/><path d="M1736 89.6h299M1443 91.7h304M1613 84.3h161M1587 88.8h341M1646 82.8h181M1713 76.8h107M1640 85.8h330M1598 93.4h196M1617 65.6h224M1515 80.6h167" stroke="#a3c04e" stroke-width="1.3" opacity=".55" fill="none"/><path d="M1681.8 94.7L1760 88L1802 79.3L1845 63L2105 60V101L1830 101.6L1760 99.6Z" fill="url(#les1)"/><path d="M1692 94.6L1760 90L1830 87.5L1905 87L1905 95L1830 98.5L1760 97.8Z" fill="#e8c99c" filter="url(#soft)"/><path d="M1560 96.6L1680 95.6L1694 98.6L1560 100.4Z" fill="#b4cf44" opacity=".75" filter="url(#soft)"/><path d="M1472 88H1640L1700 93L1640 98.5H1472Z" fill="#8cba46" opacity=".7" filter="url(#soft)"/><path d="M2015 70.9h86M1928 77.7h63M1844 70.2h50M1860 87.8h49M1900 73.3h35M1986 96.4h45M2009 74.6h73M1862 84.0h49M2026 91.2h28M1826 80.0h35M1862 98.2h86M1963 98.1h82M1980 90.4h54M1927 94.7h28M1977 89.6h31M2000 69.2h88M1999 79.9h61M2053 76.6h34M1979 96.4h31M1999 77.4h68M1924 98.2h60M2051 98.6h29M2044 91.1h30M1950 73.1h23M1815 76.4h81M1819 84.7h81M1894 89.6h62M1998 80.8h89M1904 70.9h29M1867 67.4h86M1835 94.1h74M1922 64.9h34M2043 78.3h75M1894 76.0h34M1967 84.4h59M1882 78.2h39M1944 77.4h66M2050 75.0h61" stroke="#c47a24" stroke-width="1.6" opacity=".7" fill="none"/><path d="M1941 87.6h63M1991 96.4h73M1867 71.2h52M1920 98.6h71M1938 76.0h36M1969 97.2h32M1934 75.8h63M1888 65.4h67M1901 86.9h84M1964 96.8h76M1845 72.1h66M1940 63.2h78M1979 79.1h57M1869 83.4h30M1983 97.8h35M1891 84.3h81M1869 77.5h62M1868 65.6h72M1973 84.5h58M1854 80.8h54M1948 69.0h25M1949 88.7h67M2045 76.7h47M1906 81.7h67M2029 66.4h60M2006 90.7h50" stroke="#edc878" stroke-width="1.8" opacity=".7" fill="none"/><g filter="url(#soft2)"><path d="M1995 70.2h8M2081 80.3h8M1904 71.2h5M1971 92.0h5M2093 65.6h4M1890 79.5h8M1942 80.5h5M1910 92.3h6M1902 78.9h5M1903 87.1h8M2020 87.6h5M1949 77.0h6M1869 90.5h6M1852 80.2h8M1874 92.4h5M2026 63.3h8M2055 99.5h6M1895 65.4h4M1951 99.7h5M2074 84.1h4M1975 95.4h5M2067 69.7h8M2021 63.2h3M1866 84.3h8M2087 95.4h3M2019 85.6h8M2052 92.3h4M2021 97.2h4M2035 96.0h6M2094 98.8h3M2089 95.7h5M1944 65.2h8M2022 76.0h3M1898 88.1h5M1873 97.7h5M1967 78.7h8M2095 96.3h5M1911 73.4h4M1853 86.4h8M1965 84.1h5M1910 73.1h4M1988 82.8h5M1855 67.9h5M2020 96.1h6M2010 90.6h8M1867 68.5h3M1886 67.5h3M1962 87.6h5M1978 86.2h4M1882 83.2h5M1925 74.1h5M1910 79.1h6M2094 90.8h4M1862 99.7h6M1960 64.9h8M2028 98.2h6M2094 85.9h3M1853 97.3h5M2043 98.3h6M2037 94.7h3M1859 95.2h8M2010 88.6h8M2050 75.5h3M1887 89.4h6M1877 63.2h5M1904 92.5h3M2095 90.1h4M1893 96.9h4M1962 64.4h4M2074 97.8h8M2070 66.9h8M2084 75.3h8M2076 84.3h6M2077 67.1h3M1962 84.1h8M2001 99.8h6M2038 88.9h3M1922 82.6h3M1924 71.7h6M2014 77.0h5M2024 71.9h6M2074 80.4h4M1952 85.1h6M1960 97.3h5M2039 91.0h4M1932 64.4h5M1981 64.2h6M1882 84.9h8M1942 92.3h6M2004 99.2h3M1963 74.2h4M2015 76.7h3M2063 77.2h5M1864 63.1h4M1972 77.5h3M2079 69.9h6M1917 98.9h4M2021 73.5h6M1885 69.1h6M1924 71.6h8M1862 82.6h3M2038 81.1h6M2006 86.1h4M1941 80.8h4M2043 90.5h6M1875 91.2h3M2099 65.3h6M1918 75.8h6M1891 65.8h4M2067 94.6h8M1977 98.4h6M2041 96.7h3M1944 93.9h3M1853 72.4h4M1982 83.8h5M1982 84.5h4M1988 90.1h3M1898 64.9h4M2057 67.4h4M1971 98.9h4M1885 68.9h6M1970 65.2h5M2051 65.8h5M1895 63.2h5M1859 72.9h4M2099 95.0h6M1912 94.9h5M1887 97.3h5M1938 95.8h6M1930 84.2h5M2089 82.1h6M2094 68.8h4M2028 63.4h3M1982 93.5h4M1913 79.5h8M1902 66.9h6M2075 92.7h6M2069 63.4h4M2005 81.6h6M1865 89.3h5M2004 88.4h4M2047 83.6h5M2046 69.4h3M1946 100.0h8M1900 95.2h8M1971 68.6h5M1893 81.4h4M1927 79.3h3M1955 79.2h3M2024 75.9h3M2050 76.5h8M1932 65.6h3M2048 80.3h5M1906 92.5h4M2061 70.5h4M1979 73.6h8M1876 89.3h5M2023 64.0h4M2003 87.8h8M1921 84.1h4M1954 81.8h4M1959 65.3h5M1943 93.5h4M2040 91.9h3M2094 95.4h3M1927 73.1h5M1855 71.2h3M1982 73.6h8M1950 80.0h3M1950 96.1h6" stroke="#544a3a" stroke-width="3" opacity=".6" fill="none"/><path d="M2094 79.9h2M2016 96.8h1.5M2007 80.1h2.5M2065 67.4h1.5M1866 84.6h1.5M1842 98.6h2M1994 73.9h3M2062 84.5h3M1891 87.3h4M1897 76.7h4M1889 88.7h4M1958 72.3h2.5M2075 91.0h4M2069 96.1h4M1882 82.4h1.5M1960 68.4h3M1968 97.0h3M2078 66.6h1.5M1913 87.7h1.5M2096 83.8h1.5M2021 73.8h4M1959 86.0h3M2051 79.4h1.5M1878 91.8h2.5M2005 95.3h4M1895 71.8h2M1892 77.3h4M1853 87.8h1.5M1959 75.2h4M1869 64.3h2.5M2015 94.4h4M1856 79.9h3M2078 69.7h2.5M1973 85.1h4M2002 87.5h3M1923 75.3h1.5M2058 86.0h3M1999 69.0h3M2053 91.5h2.5M1991 97.0h4M1916 72.3h4M1839 92.9h3M1919 92.4h3M1868 80.0h3M2072 88.2h4M2008 91.1h4M1833 81.0h1.5M2054 68.6h4M1955 88.1h1.5M1900 63.4h4M2041 83.4h1.5M1996 68.1h2M1973 94.8h1.5M2033 92.8h2.5M2017 72.4h1.5M2044 91.0h4M2040 74.0h3M2010 87.2h4M1956 84.8h2M2085 67.0h2.5M2011 99.9h4M1907 97.4h3M1938 89.3h2.5M1961 68.0h2M1971 98.3h4M1895 73.8h3M1919 67.6h1.5M2005 74.6h3M2053 97.2h2M1949 75.0h2.5M2023 73.2h4M1938 67.1h2.5M1872 90.1h2.5M2009 82.4h3M2019 86.7h1.5M2019 81.2h2M1941 99.1h2.5M2083 78.8h2.5M1925 89.7h4M2008 64.6h1.5M2056 99.9h2M1927 63.7h2.5M1859 76.6h1.5M2051 73.0h2M1883 74.2h2M1888 73.8h2M2035 99.9h4M2049 92.8h2.5M2077 91.8h2.5M1948 75.5h2M1950 92.2h2.5M1993 72.8h2M2022 71.6h1.5M1999 85.8h3M1984 74.8h2M1843 67.5h2.5M1975 77.8h2.5M1878 99.6h3M1833 71.8h3M1884 71.9h1.5M2021 78.7h4M1957 68.1h1.5M2061 64.9h3M2006 84.2h1.5M1952 87.2h2M2000 77.9h3M1904 90.0h1.5M1911 88.6h1.5M2060 74.2h2M2090 88.6h1.5M1854 99.6h4M1965 63.9h4M1930 84.4h3M1990 91.9h2.5M1836 75.4h4M2085 68.7h3M2023 69.8h4M1966 69.6h2M2032 78.0h2M1893 96.0h1.5M1954 65.1h2.5M2065 96.6h2M1955 97.5h3M2065 91.6h3M2014 98.4h3M1873 84.7h3M2011 74.7h4M2019 77.7h2M1920 85.5h4M2003 91.8h4M2067 93.7h1.5M1858 88.6h2.5M1848 85.1h2.5M2052 85.9h3M1874 86.6h2.5M2050 86.2h2.5M2059 97.8h2M1968 72.5h3M1967 91.6h1.5M1858 98.6h4M2093 65.3h1.5M1845 78.6h1.5M1930 86.5h2M2057 91.1h1.5M2040 85.9h4M1915 64.8h4M1970 83.2h1.5M1887 98.7h2.5M1951 68.6h4M1863 83.1h1.5M1904 81.4h3M1984 97.5h3M1849 94.0h2M1955 72.4h3M2029 78.5h3M2059 86.8h3M2086 89.8h2M2070 94.8h3M2045 96.0h3M1859 83.3h2M1976 76.4h2.5M1944 65.8h2M2068 79.5h4M1849 94.5h4M1975 69.7h3M1964 86.5h2M2090 74.3h2.5M2010 86.8h3M1912 98.0h1.5M1839 99.4h2M2015 82.1h3M1873 89.1h1.5M1877 92.8h2M2047 78.1h2.5M1970 73.1h3M1889 87.0h2M1869 95.5h1.5M2090 65.9h4M2044 99.3h3M2042 69.6h1.5M1913 77.9h3M1844 85.8h2.5M1858 98.8h2M1973 94.5h2.5M1966 96.1h2M2035 76.9h2.5M1901 68.9h1.5M1836 66.4h2.5M1843 74.3h2.5M1969 75.3h3M2063 86.1h4M1976 83.5h3M1997 70.8h2.5M1842 68.2h2M1984 89.9h4M2053 72.4h2.5M1983 79.7h2M1905 85.1h3M1927 65.6h3M1922 99.1h3" stroke="#3e3a30" stroke-width="1.8" opacity=".75" fill="none"/></g></g><defs><linearGradient id="sg15" x1="0" y1="0" x2="0" y2="1"><stop offset="0.000" stop-color="#538c3a"/><stop offset="0.033" stop-color="#6a9d3b"/><stop offset="0.067" stop-color="#699c3b"/><stop offset="0.100" stop-color="#75a43f"/><stop offset="0.133" stop-color="#61963a"/><stop offset="0.167" stop-color="#4d873a"/><stop offset="0.200" stop-color="#6d9f3c"/><stop offset="0.233" stop-color="#6a9d3b"/><stop offset="0.267" stop-color="#7ba841"/><stop offset="0.300" stop-color="#4e883a"/><stop offset="0.333" stop-color="#76a53f"/><stop offset="0.367" stop-color="#76a53f"/><stop offset="0.400" stop-color="#6d9e3c"/><stop offset="0.433" stop-color="#63983a"/><stop offset="0.467" stop-color="#6a9d3b"/><stop offset="0.500" stop-color="#78a540"/><stop offset="0.533" stop-color="#63983a"/><stop offset="0.567" stop-color="#518839"/><stop offset="0.600" stop-color="#4a853a"/><stop offset="0.633" stop-color="#5b923a"/><stop offset="0.667" stop-color="#7aa641"/><stop offset="0.700" stop-color="#57903a"/><stop offset="0.733" stop-color="#5d933a"/><stop offset="0.767" stop-color="#6b9d3c"/><stop offset="0.800" stop-color="#689b3b"/><stop offset="0.833" stop-color="#7ba741"/><stop offset="0.867" stop-color="#6d9f3c"/><stop offset="0.900" stop-color="#65993a"/><stop offset="0.933" stop-color="#75a43f"/><stop offset="0.967" stop-color="#568f3a"/><stop offset="1.000" stop-color="#5e943a"/></linearGradient><clipPath id="cp16"><path d="M1472.3 128.6L1600 127.6L1790 127.3L2097 127L2097 161.5L1891 166.2L1760 170.5L1620 171.6L1472.3 170.8Z"/></clipPath></defs><g clip-path="url(#cp16)"><rect x="1472.3" y="127" width="624.7" height="44.599999999999994" fill="url(#sg15)"/><path d="M1764 136.2h324M1548 159.9h192M1659 154.3h91M1695 133.1h236M1738 155.2h308M1546 148.5h144M1617 132.6h358M1540 153.9h245M1594 167.0h276M1717 134.2h137M1460 162.1h262M1471 147.4h241M1614 154.7h372M1574 155.6h312" stroke="#2f6e38" stroke-width="1.1" opacity=".7" fill="none"/><path d="M1646 152.6h222M1672 147.7h227M1497 132.1h272M1472 157.1h246M1569 161.2h202M1590 162.8h229M1626 126.1h272M1549 134.1h273M1584 137.2h212M1530 144.7h305" stroke="#a3c04e" stroke-width="1.3" opacity=".55" fill="none"/><path d="M1786.6 126L2100 126V167L1891.3 166.2L1840 157L1752.7 139.5Z" fill="url(#les2)"/><path d="M1752.7 139.3L1840 155.5L1891.3 165.5L1970 166.5L1905 156L1800 141Z" fill="#dc9a30" filter="url(#soft)"/><path d="M1660 157.8L1700 156.6L1752 158.4L1790 161L1752 162.2L1700 161.6Z" fill="#d9d23c" opacity=".9" filter="url(#soft)"/><path d="M1690 141L1752 139L1800 142L1752 143.8Z" fill="#d9c83c" opacity=".8" filter="url(#soft)"/><path d="M1897 162.8h63M1931 163.7h40M2019 144.0h67M2052 158.7h62M2008 128.9h50M2022 156.6h52M1852 141.2h50M1965 148.1h33M1877 143.7h30M1880 141.9h72M2035 128.3h30M2021 128.4h38M1942 148.2h35M1993 155.1h20M1982 142.3h54M1946 152.7h76M1839 135.2h34M2022 141.8h68M2004 160.7h74M1947 158.4h43M1950 138.3h48M1892 146.9h20M1908 146.9h84M1982 133.7h47M1994 131.2h80M1943 164.4h46M1873 134.8h39M1876 150.0h39M1988 164.3h74M2052 157.9h56M1803 128.8h37M1985 133.9h59M1993 149.6h71M2006 155.5h20" stroke="#d29438" stroke-width="1.6" opacity=".65" fill="none"/><path d="M1933 150.7h41M2042 155.7h73M1919 159.8h71M1954 132.0h52M2052 149.2h46M1963 133.4h43M2003 145.9h47M2053 147.8h52M1928 138.7h85M1962 148.5h80M1903 165.1h68M1899 145.3h88M1958 128.5h80M1908 139.4h54M1961 145.5h54M1887 154.3h78M2010 165.7h74M2048 152.2h79M1992 137.5h70M1961 148.2h37M2045 158.7h75M1863 134.4h33M1899 140.9h72M1904 165.8h24" stroke="#f0dcae" stroke-width="1.8" opacity=".7" fill="none"/><g filter="url(#soft2)"><path d="M1976 142.6h8M1921 150.1h8M1956 156.4h4M2015 142.3h4M1946 131.2h3M2001 151.2h6M2065 159.8h8M1951 146.6h6M1983 153.5h4M1977 159.5h6M2000 147.4h8M1922 143.1h4M1901 130.7h4M1983 144.4h8M1978 164.7h5M2042 152.3h6M1985 148.4h8M1999 142.8h4M1974 162.8h8M1903 129.8h3M2077 163.9h4M1884 157.6h8M2060 142.6h5M1917 161.7h4M1855 145.0h4M1858 143.8h4M1974 148.2h3M1836 132.5h4M1872 144.9h4M1922 154.1h4M2029 158.2h8M2048 152.4h4M2064 155.2h6M1833 137.7h6M2005 163.0h4M2084 152.2h6M1824 134.0h4M2013 160.9h3M2003 153.4h4M1913 156.1h3M2082 141.0h4M1933 158.0h4M2033 155.2h5M1968 138.7h8M2092 135.5h3M2022 156.7h6M1960 150.7h6M1868 131.8h4M2084 149.0h3M2032 154.4h3M2020 152.6h4M2071 157.5h4M2055 143.1h6M1831 140.9h6M1874 137.9h6M1863 146.4h4M1910 129.5h5M1896 148.4h3M1972 157.3h6M2094 128.7h6M1798 132.3h5M1952 164.9h3M2073 164.7h6M1808 135.5h6M2090 164.1h4M1868 134.9h5M2018 158.9h4M2049 152.1h5M1987 132.3h8M2053 161.9h5M1879 147.5h4M1853 128.9h4M1957 137.0h8M2041 159.1h3M2089 164.9h6M1972 143.3h8M1865 150.2h4M2012 146.6h8M1923 138.8h3M2079 137.0h6M1998 131.0h3M1943 136.9h3M2063 156.0h5M1941 151.8h3M2012 135.3h6M1863 142.6h8M2050 133.9h3M2041 154.9h3M2075 142.5h6M2067 160.1h3M2017 141.2h8M2091 163.2h5M1879 152.7h4M1873 135.2h5M1907 152.5h4M2037 137.2h5M2090 134.4h5M1954 159.7h6M1891 133.8h3M1890 161.4h8M1904 129.4h3M2066 156.5h8M2055 157.8h4M2036 163.0h3M1918 165.4h4M1950 134.1h8M1957 133.5h6M2028 146.1h8M2021 135.9h4M2041 143.8h4M2011 154.5h4M1930 142.2h8M1893 133.0h8M1998 130.1h5M1998 149.5h5M1821 140.6h8M1978 137.2h5M1985 139.4h6M1940 153.1h4M1992 151.5h3M1911 141.2h8M1987 139.0h8M1876 155.5h6M2074 162.9h6M2003 142.8h3M2090 146.6h3M2078 165.2h8M1965 161.8h8M1969 160.5h4M1905 132.7h6M2077 162.4h6M2033 157.7h3M2051 138.3h3M1854 145.2h6M1928 142.6h5M1937 156.3h4M1848 146.3h6M2070 131.6h8M2049 146.3h4M1881 146.7h3M2006 147.1h6M1855 129.3h6M1832 128.9h8M2096 140.5h8M1920 150.5h5M1988 146.5h5M2048 137.5h4M1861 147.1h6M1855 150.0h8M1799 132.2h6M1991 134.5h6M1996 137.2h4M1982 160.8h5M1824 140.0h4M1912 153.6h4M2039 160.5h3M1865 152.1h8M1869 133.1h4M2004 145.1h5M1901 157.4h4M1888 135.4h8M2015 143.2h8M2004 157.7h3M1950 145.2h6M2050 135.7h3M1864 143.1h6M2013 150.8h4M1852 149.6h6M1925 143.6h6M1855 144.8h5M2041 130.5h8M1951 137.5h5M2021 165.0h5M2089 138.9h4M2069 141.6h8M1931 149.8h6M1802 128.3h3M1965 161.3h6M2068 162.7h5M1840 132.7h6M1907 131.6h6M1907 155.9h3M1898 142.8h5M1862 142.4h8M2057 135.3h6M2017 160.1h4M1901 159.2h5M1899 132.9h8M2072 160.8h6M2081 133.3h8M1858 142.8h4M1989 141.6h3M1824 128.1h5M2031 139.0h3M2087 135.1h5M1859 149.0h4M1926 138.6h3M1926 128.4h8M1896 129.8h5M1968 160.4h3" stroke="#5c5646" stroke-width="3" opacity=".55" fill="none"/><path d="M2083 161.1h2M1904 128.3h2M2035 128.6h2M1813 133.6h1.5M1987 140.5h1.5M2052 150.1h3M2091 164.0h2M1979 143.6h3M1921 137.3h2M2052 129.5h1.5M1969 158.5h2M1860 143.8h1.5M2035 148.8h2M2069 165.9h2M2052 134.9h4M1900 133.5h2M1847 144.8h1.5M1829 128.4h2M1957 143.9h4M1931 135.1h3M1999 160.6h3M1944 147.8h1.5M1963 129.1h1.5M1843 146.4h3M1819 135.3h2M1967 158.9h4M1986 131.9h2M1981 160.1h1.5M1912 159.2h2M1903 148.6h2M1807 136.0h2M2051 150.5h1.5M2012 151.8h3M1940 136.7h4M2069 146.2h3M1872 131.3h2M1954 164.0h3M2073 151.3h4M1920 130.7h4M1822 141.5h4M2069 145.4h1.5M1835 138.3h1.5M1863 148.1h3M1877 154.0h2.5M1935 142.0h1.5M2034 145.9h3M2006 147.0h2M1975 136.9h4M1898 132.0h2.5M1850 135.9h2M2055 131.8h4M2015 149.8h2M2035 140.6h2M2006 128.0h2.5M1994 145.6h2M1871 128.3h2.5M2093 148.7h1.5M1826 132.7h4M1857 143.8h2M1988 159.6h2M1944 165.3h1.5M2087 162.5h2.5M2073 145.9h3M1996 140.2h1.5M1982 157.3h4M1987 159.0h1.5M1906 153.5h4M2036 157.8h3M2094 155.1h4M1791 128.6h1.5M1955 135.4h2.5M1962 157.9h1.5M1867 146.9h1.5M1884 154.5h3M1965 157.1h2.5M1894 129.1h2.5M1892 137.2h1.5M1806 132.6h2M2092 129.5h2.5M2078 151.7h1.5M1818 136.7h1.5M1905 152.8h2.5M2009 136.9h4M1998 132.5h2M1966 134.8h3M2089 129.6h4M1860 147.5h4M1838 145.9h2M2015 159.4h1.5M1962 136.6h4M1828 128.3h2.5M1889 133.5h1.5M1963 160.3h2M2010 144.0h3M2003 142.8h1.5M1987 147.8h2M2083 154.7h1.5M1995 131.2h3M2009 139.7h2M1991 159.2h4M1937 154.9h2.5M2087 143.0h1.5M1917 160.7h2.5M1793 131.2h2.5M1894 149.9h4M2082 149.5h2.5M1891 145.6h1.5M1825 132.7h1.5M2025 140.4h2M2090 148.5h1.5M1902 144.1h1.5M1830 131.1h2M1933 163.6h3M2047 162.7h1.5M2024 157.4h2.5M2090 160.2h1.5M1861 145.2h4M2072 130.4h2M2087 148.9h2.5M1981 130.6h3M2038 156.2h3M2047 129.4h2.5M2034 134.4h3M1975 138.1h1.5M2091 149.4h1.5M1857 138.3h3M2059 152.2h1.5M1888 145.8h2M2015 142.5h2.5M1966 146.5h4M1932 137.1h2.5M2048 149.5h2.5M1886 138.1h1.5M2037 141.5h1.5M2054 142.9h4M1867 149.7h4M1958 143.4h4M2084 146.3h2.5M1952 133.2h2.5M2058 158.0h2M1932 147.9h2M1956 130.2h2M1964 162.8h2.5M1864 145.1h1.5M1812 137.7h2M1812 130.2h4M2032 152.2h2.5M1938 134.4h2M1974 151.1h3M2038 157.2h3M2001 155.8h3M1935 148.2h3M1916 146.1h1.5M1961 154.4h2.5M1881 149.6h2M1932 130.1h1.5M1932 159.9h2.5M1953 153.0h2.5M1921 141.9h2M1838 129.5h3M1941 144.9h2M1846 139.3h3M1880 147.3h2M2081 150.8h2M1957 158.8h4M2028 142.9h1.5M2033 130.9h4M2069 140.9h2.5M1966 138.1h4M1916 131.5h4M1988 132.9h3M1911 145.9h4M1988 165.9h2.5M1979 150.1h4M1950 139.7h4M1967 138.9h2M1847 147.1h1.5M2046 131.9h2.5M1928 156.0h3M1997 151.1h4M2015 133.7h3M1954 140.9h3M2037 134.1h2.5M1949 135.1h4M1868 143.7h1.5M2018 155.2h1.5M2065 133.6h4M2050 128.0h3M1878 154.7h2.5M2069 145.0h3M1914 156.4h4M1854 141.7h4M1879 150.9h2M1976 157.5h3M1933 141.8h1.5M1863 133.9h2.5M1960 149.2h2.5M2019 137.3h4M1881 154.8h2M2034 152.6h4M1871 143.8h4M1963 157.8h2.5M1876 144.9h2.5M2073 145.5h2.5M1878 141.5h2.5M2004 137.9h4M1985 130.6h4M2085 157.1h3M2046 140.6h4M1873 141.3h1.5M2080 144.4h2M1947 135.2h3M1959 155.2h4M1826 131.3h4M1956 128.7h4M2015 141.2h2M2034 129.2h4M2096 157.0h4M2062 150.7h2.5M2013 146.1h4" stroke="#403c34" stroke-width="1.8" opacity=".7" fill="none"/></g></g><defs><linearGradient id="sg17" x1="0" y1="0" x2="0" y2="1"><stop offset="0.000" stop-color="#679b3e"/><stop offset="0.033" stop-color="#86b046"/><stop offset="0.067" stop-color="#57903c"/><stop offset="0.100" stop-color="#5c933c"/><stop offset="0.133" stop-color="#63983d"/><stop offset="0.167" stop-color="#7eab42"/><stop offset="0.200" stop-color="#5e953b"/><stop offset="0.233" stop-color="#81ab45"/><stop offset="0.267" stop-color="#699d3f"/><stop offset="0.300" stop-color="#8eb348"/><stop offset="0.333" stop-color="#689c3e"/><stop offset="0.367" stop-color="#5b9139"/><stop offset="0.400" stop-color="#5f963c"/><stop offset="0.433" stop-color="#5d943c"/><stop offset="0.467" stop-color="#78a741"/><stop offset="0.500" stop-color="#6b9e3e"/><stop offset="0.533" stop-color="#5d933a"/><stop offset="0.567" stop-color="#77a542"/><stop offset="0.600" stop-color="#457e3a"/><stop offset="0.633" stop-color="#5a923c"/><stop offset="0.667" stop-color="#5d953c"/><stop offset="0.700" stop-color="#467f3a"/><stop offset="0.733" stop-color="#679b3e"/><stop offset="0.767" stop-color="#7ba842"/><stop offset="0.800" stop-color="#6c9e3f"/><stop offset="0.833" stop-color="#5f963c"/><stop offset="0.867" stop-color="#5c923a"/><stop offset="0.900" stop-color="#71a240"/><stop offset="0.933" stop-color="#5b923c"/><stop offset="0.967" stop-color="#58913c"/><stop offset="1.000" stop-color="#7aa741"/></linearGradient><clipPath id="cp18"><path d="M1472.3 226L1645 230L1922 233.1L2060 236.6L2091.5 238.3L2091.5 265.5L1891 270.1L1645 270.1L1472.3 267Z"/></clipPath></defs><g clip-path="url(#cp18)"><rect x="1472.3" y="226" width="619.2" height="44.10000000000002" fill="url(#sg17)"/><path d="M1908 241.8h147M1927 255.2h304M1702 269.5h309M1767 265.3h336M1926 263.2h343M1838 254.3h103M1744 266.7h330M1870 262.5h269M1901 237.9h138M1868 253.6h117M1766 269.3h332M1741 249.9h321M1723 229.0h323M1458 233.9h258M1737 270.5h354M1613 257.4h249" stroke="#2f6e38" stroke-width="1.1" opacity=".7" fill="none"/><path d="M1579 250.7h281M1833 244.9h90M1841 238.4h291M1541 236.7h348M1924 250.8h216M1844 270.1h419M1746 243.9h394M1802 232.0h254M1756 234.1h313M1563 254.7h269M1597 252.8h397M1738 254.4h409" stroke="#a3c04e" stroke-width="1.3" opacity=".6" fill="none"/><rect x="2074" y="230" width="18" height="44" fill="url(#tipg)"/><path d="M2087 247.3h3M2084 253.2h2.5M2086 243.9h2.5M2087 243.6h3M2084 237.6h2.5M2088 261.0h4M2089 267.1h2.5M2088 243.4h4M2090 237.2h2M2086 259.3h1.5" stroke="#6a4a24" stroke-width="1.8" opacity=".7" fill="none"/></g><defs><linearGradient id="sg19" x1="0" y1="0" x2="0" y2="1"><stop offset="0.000" stop-color="#6fa13d"/><stop offset="0.033" stop-color="#699d3c"/><stop offset="0.067" stop-color="#669b3b"/><stop offset="0.100" stop-color="#78a741"/><stop offset="0.133" stop-color="#79a840"/><stop offset="0.167" stop-color="#71a33e"/><stop offset="0.200" stop-color="#7aa840"/><stop offset="0.233" stop-color="#689d3c"/><stop offset="0.267" stop-color="#7eab43"/><stop offset="0.300" stop-color="#4d883b"/><stop offset="0.333" stop-color="#77a640"/><stop offset="0.367" stop-color="#6fa13e"/><stop offset="0.400" stop-color="#669b3c"/><stop offset="0.433" stop-color="#5d9339"/><stop offset="0.467" stop-color="#508a3b"/><stop offset="0.500" stop-color="#659a3c"/><stop offset="0.533" stop-color="#64993c"/><stop offset="0.567" stop-color="#6fa13e"/><stop offset="0.600" stop-color="#528c3b"/><stop offset="0.633" stop-color="#609539"/><stop offset="0.667" stop-color="#679c3c"/><stop offset="0.700" stop-color="#8ab146"/><stop offset="0.733" stop-color="#5f963c"/><stop offset="0.767" stop-color="#699d3c"/><stop offset="0.800" stop-color="#669b3c"/><stop offset="0.833" stop-color="#4a863b"/><stop offset="0.867" stop-color="#88b045"/><stop offset="0.900" stop-color="#609539"/><stop offset="0.933" stop-color="#6da03d"/><stop offset="0.967" stop-color="#72a33f"/><stop offset="1.000" stop-color="#6da03d"/></linearGradient><clipPath id="cp20"><path d="M1472.3 293.8L1583 291.6L1830 293.2L2087 296.3L2087 328.6L1891 332.6L1675 331.7L1472.3 329.5Z"/></clipPath></defs><g clip-path="url(#cp20)"><rect x="1472.3" y="291.6" width="614.7" height="41.0" fill="url(#sg19)"/><path d="M1766 313.3h140M1473 326.7h176M1479 320.1h235M1965 296.6h119M1944 304.8h355M1882 317.7h297M1805 299.4h115M1879 290.3h383M1949 299.7h411M1861 308.7h267M1448 320.1h393M1915 310.2h417M1941 312.0h345M1977 293.9h398M1548 301.1h212M1931 328.1h127" stroke="#2f6e38" stroke-width="1.1" opacity=".7" fill="none"/><path d="M1508 314.0h113M1710 322.2h410M1730 333.9h102M1729 312.1h346M1458 322.7h315M1895 327.2h151M1449 333.0h190M1806 313.8h360M1450 327.8h283M1919 313.8h170M1675 294.2h191M1744 305.0h374" stroke="#a3c04e" stroke-width="1.3" opacity=".6" fill="none"/><rect x="2062" y="288" width="25" height="49" fill="url(#tipg)"/><path d="M2076 322.1h2M2079 297.4h4M2078 294.9h2.5M2076 300.4h2M2077 297.2h2.5M2082 311.7h4M2083 323.7h3M2083 320.0h1.5M2080 324.5h2.5M2079 298.4h2.5" stroke="#6a4a24" stroke-width="1.8" opacity=".7" fill="none"/></g><defs><linearGradient id="sg21" x1="0" y1="0" x2="0" y2="1"><stop offset="0.000" stop-color="#79a940"/><stop offset="0.033" stop-color="#6ea33e"/><stop offset="0.067" stop-color="#7baa41"/><stop offset="0.100" stop-color="#6ca13d"/><stop offset="0.133" stop-color="#75a73f"/><stop offset="0.167" stop-color="#72a63e"/><stop offset="0.200" stop-color="#73a63e"/><stop offset="0.233" stop-color="#73a63e"/><stop offset="0.267" stop-color="#80ae43"/><stop offset="0.300" stop-color="#659a3d"/><stop offset="0.333" stop-color="#508b3b"/><stop offset="0.367" stop-color="#77a940"/><stop offset="0.400" stop-color="#6da13e"/><stop offset="0.433" stop-color="#73a63e"/><stop offset="0.467" stop-color="#6a9f3d"/><stop offset="0.500" stop-color="#77a940"/><stop offset="0.533" stop-color="#73a63e"/><stop offset="0.567" stop-color="#81ae44"/><stop offset="0.600" stop-color="#6aa03d"/><stop offset="0.633" stop-color="#76a83f"/><stop offset="0.667" stop-color="#75a73f"/><stop offset="0.700" stop-color="#558f3b"/><stop offset="0.733" stop-color="#4d883b"/><stop offset="0.767" stop-color="#74a73f"/><stop offset="0.800" stop-color="#7aaa41"/><stop offset="0.833" stop-color="#669c3d"/><stop offset="0.867" stop-color="#6da13d"/><stop offset="0.900" stop-color="#6da23d"/><stop offset="0.933" stop-color="#51883b"/><stop offset="0.967" stop-color="#74a73f"/><stop offset="1.000" stop-color="#689e3d"/></linearGradient><clipPath id="cp22"><path d="M1472.3 382.9L1829.7 383.5L1953 388.1L2079 393.3L2074.6 418.9L1953 420.5L1829.7 425.1L1645 427.2L1472.3 423.5Z"/></clipPath></defs><g clip-path="url(#cp22)"><rect x="1472.3" y="382.9" width="606.7" height="44.30000000000001" fill="url(#sg21)"/><path d="M1920 405.9h196M1592 424.9h188M1696 389.9h244M1569 413.2h308M1919 413.2h403M1866 395.5h391M1710 384.0h101M1684 389.6h255M1592 387.3h234M1971 389.4h295M1881 393.3h279M1952 396.5h413M1992 387.5h157M1958 387.0h141M1475 405.0h171M1701 397.5h375" stroke="#2f6e38" stroke-width="1.1" opacity=".7" fill="none"/><path d="M1938 386.4h111M1985 386.3h419M1703 389.5h186M1853 383.1h145M1542 393.3h227M1746 384.7h192M1515 403.3h386M1685 387.3h319M1986 406.8h231M1913 409.2h379M1601 393.1h204M1858 395.0h279" stroke="#a3c04e" stroke-width="1.3" opacity=".6" fill="none"/><rect x="2046" y="382" width="33" height="46" fill="url(#tipg)"/><path d="M2064 400.8h1.5M2071 401.7h1.5M2073 404.2h4M2072 414.0h2M2070 390.9h1.5M2067 413.8h3M2065 417.2h2M2069 397.3h3M2070 416.6h2.5M2067 400.3h2" stroke="#6a4a24" stroke-width="1.8" opacity=".7" fill="none"/></g><defs><linearGradient id="sg23" x1="0" y1="0" x2="0" y2="1"><stop offset="0.000" stop-color="#7ca941"/><stop offset="0.033" stop-color="#679d3c"/><stop offset="0.067" stop-color="#558e3b"/><stop offset="0.100" stop-color="#6ca03c"/><stop offset="0.133" stop-color="#79a840"/><stop offset="0.167" stop-color="#6ca03c"/><stop offset="0.200" stop-color="#70a33d"/><stop offset="0.233" stop-color="#457d39"/><stop offset="0.267" stop-color="#64993a"/><stop offset="0.300" stop-color="#659b3c"/><stop offset="0.333" stop-color="#71a33d"/><stop offset="0.367" stop-color="#78a83f"/><stop offset="0.400" stop-color="#699e3b"/><stop offset="0.433" stop-color="#60963b"/><stop offset="0.467" stop-color="#699e3c"/><stop offset="0.500" stop-color="#7eab41"/><stop offset="0.533" stop-color="#7ba941"/><stop offset="0.567" stop-color="#7baa41"/><stop offset="0.600" stop-color="#699e3c"/><stop offset="0.633" stop-color="#71a33d"/><stop offset="0.667" stop-color="#81ae43"/><stop offset="0.700" stop-color="#6da13c"/><stop offset="0.733" stop-color="#6fa33c"/><stop offset="0.767" stop-color="#76a63f"/><stop offset="0.800" stop-color="#74a53e"/><stop offset="0.833" stop-color="#5e9439"/><stop offset="0.867" stop-color="#8ab146"/><stop offset="0.900" stop-color="#6fa33c"/><stop offset="0.933" stop-color="#71a43d"/><stop offset="0.967" stop-color="#4d843a"/><stop offset="1.000" stop-color="#7baa41"/></linearGradient><clipPath id="cp24"><path d="M1472.3 447.3L1675.7 447.6L1798.9 447.6L1953 449.7L2074.6 453.7L2074.6 476.5L1953 480.5L1829.7 485.8L1675.7 487.3L1472.3 483.6Z"/></clipPath></defs><g clip-path="url(#cp24)"><rect x="1472.3" y="447.3" width="602.3" height="40.0" fill="url(#sg23)"/><path d="M1951 447.3h345M1663 478.7h396M1850 447.2h145M1945 467.2h209M1769 454.7h99M1742 444.8h188M1912 474.1h381M1986 478.0h277M1609 476.3h267M1560 462.6h153M1799 462.0h153M1456 463.6h283M1608 455.3h263M1526 455.5h215M1558 461.8h347M1910 452.5h162" stroke="#2f6e38" stroke-width="1.1" opacity=".7" fill="none"/><path d="M1870 463.5h291M1644 452.0h306M1982 463.2h299M1852 454.8h384M1586 457.3h285M1570 458.7h278M1467 443.6h276M1989 448.7h251M1766 443.5h103M1984 480.1h169M1515 443.3h125M1527 476.9h257" stroke="#a3c04e" stroke-width="1.3" opacity=".6" fill="none"/><rect x="2048" y="444" width="27" height="42" fill="url(#tipg)"/><path d="M2070 474.8h4M2063 452.0h4M2071 462.4h3M2063 471.6h2.5M2072 451.4h1.5M2064 463.8h2M2067 466.1h2.5M2066 454.6h2.5M2071 450.8h2.5M2068 457.7h2" stroke="#6a4a24" stroke-width="1.8" opacity=".7" fill="none"/></g><text font-size="29" text-anchor="middle" transform="translate(1449.3 129.2) rotate(-90)">07GY31-<tspan font-style="italic">Piz-t</tspan></text><path d="M1454.2 234.2V485.2" stroke="#231815" stroke-width="4.2"/><text font-size="29" text-anchor="middle" transform="translate(1400.6 344) rotate(-90)"><tspan font-style="italic">pbx</tspan><tspan font-size="17" dy="-10">cas9</tspan><tspan dy="10">/07GY31</tspan></text><text font-size="29" text-anchor="middle" transform="translate(1436 344) rotate(-90)"><tspan font-style="italic">-Piz-t</tspan></text><path d="M1477.2 503H1558.4" stroke="#231815" stroke-width="4.5"/><text x="1522.3" y="531.1" font-size="29" text-anchor="middle" >2 cm</text></g>
<g id="panelE"><rect x="1500.9" y="600.5" width="595.9" height="419.9" fill="#060606"/><defs><linearGradient id="potg" x1="0" y1="0" x2="0" y2="1"><stop offset="0" stop-color="#bf3a26"/><stop offset=".6" stop-color="#cf4a38"/><stop offset="1" stop-color="#dc6a5e"/></linearGradient><clipPath id="cpE"><rect x="1500.9" y="600.5" width="595.9" height="419.9"/></clipPath></defs><g clip-path="url(#cpE)"><path d="M1577.3000000000002 999.6L1580.3000000000002 1021H1684.5L1687.5 999.6Z" fill="url(#potg)"/><path d="M1579.3000000000002 1012.6Q1632.4 1020.6 1685.5 1012.6" stroke="#9e2c1a" stroke-width="1.2" fill="none"/><ellipse cx="1632.4" cy="998.6" rx="59.1" ry="7.6" fill="#4b3d4c"/><ellipse cx="1632.4" cy="998.0" rx="56.5" ry="5.6" fill="#0a0a0c"/><path d="M1574.6000000000001 999.6A57.800000000000004 6.6 0 0 0 1690.2 999.6" stroke="#6a5560" stroke-width="1.4" fill="none"/><path d="M1741.6 1001L1744.6 1021H1846.0L1849.0 1001Z" fill="url(#potg)"/><path d="M1743.6 1014Q1795.3 1022 1847.0 1014" stroke="#9e2c1a" stroke-width="1.2" fill="none"/><ellipse cx="1795.3" cy="1000" rx="57.7" ry="7.6" fill="#4b3d4c"/><ellipse cx="1795.3" cy="999.4" rx="55.1" ry="5.6" fill="#0a0a0c"/><path d="M1738.8999999999999 1001A56.400000000000006 6.6 0 0 0 1851.7 1001" stroke="#6a5560" stroke-width="1.4" fill="none"/><path d="M1906.0 1002.5L1909.0 1021H2014.0L2017.0 1002.5Z" fill="url(#potg)"/><path d="M1908.0 1015.5Q1961.5 1023.5 2015.0 1015.5" stroke="#9e2c1a" stroke-width="1.2" fill="none"/><ellipse cx="1961.5" cy="1001.5" rx="59.5" ry="7.6" fill="#4b3d4c"/><ellipse cx="1961.5" cy="1000.9" rx="56.9" ry="5.6" fill="#0a0a0c"/><path d="M1903.3 1002.5A58.2 6.6 0 0 0 2019.7 1002.5" stroke="#6a5560" stroke-width="1.4" fill="none"/><path d="M1607.9 1000L1595.0 879.5" stroke="#6fa878" stroke-width="3.5" fill="none"/><path d="M1630.0 1000L1629.1 874.5M1643.4 1000L1649.7 882.9" stroke="#82b88a" stroke-width="3.5" fill="none"/><path d="M1618.9 1000L1613.4 904.4" stroke="#5f9a6c" stroke-width="3.5" fill="none"/><path d="M1613.0 1000L1606.7 924.2M1638.8 1000L1641.9 908.8" stroke="#8fc094" stroke-width="3.5" fill="none"/><path d="M1623.3 1000L1620.2 914.9M1634.4 1000L1635.9 883.5M1648.2 1000L1657.6 875.7M1654.7 1000L1667.1 882.3" stroke="#79b07c" stroke-width="3.5" fill="none"/><path d="M1638.9 1000.1L1647.2 886.8L1650.2 870.1L1655.3 838.4L1659.9 792.4L1661.9 756.6L1661.8 732.8L1656.3 756.0L1650.4 791.3L1645.3 837.4L1644.2 869.6L1644.1 886.5L1635.7 999.9Z" fill="#5a9a6e"/><path d="M1633.4 1000.0L1633.4 903.7L1634.5 877.6L1636.2 827.0L1636.0 752.4L1634.2 693.7L1631.7 654.5L1629.2 693.7L1627.5 752.4L1627.3 827.0L1629.1 877.6L1630.2 903.7L1630.2 1000.0Z" fill="#78b388"/><path d="M1628.9 999.9L1620.9 865.9L1620.2 840.1L1617.7 791.9L1609.9 724.3L1601.3 673.3L1593.9 640.4L1595.5 674.1L1599.9 725.5L1607.2 793.0L1614.0 840.7L1617.7 866.1L1625.7 1000.1Z" fill="#5a9a6e"/><path d="M1630.2 1000.1L1634.6 943.0L1637.2 931.4L1641.6 909.2L1645.2 876.7L1646.6 851.2L1646.1 834.1L1641.0 850.5L1635.8 875.5L1631.6 908.1L1631.2 930.8L1631.4 942.7L1627.0 999.9Z" fill="#78b388"/><path d="M1623.6 999.8L1613.5 928.2L1611.4 906.5L1605.5 864.0L1592.0 801.0L1578.5 751.1L1567.5 718.0L1572.8 752.4L1582.2 803.1L1595.2 866.0L1605.2 907.6L1610.4 928.7L1620.4 1000.2Z" fill="#78b388"/><path d="M1630.9 1000.0L1630.0 861.6L1631.3 837.7L1632.9 792.1L1631.8 725.8L1629.1 674.4L1625.7 640.4L1623.2 674.5L1621.9 726.0L1622.4 792.2L1625.0 837.8L1626.8 861.6L1627.7 1000.0Z" fill="#44805c"/><path d="M1618.7 999.8L1596.5 867.9L1592.8 843.9L1584.8 797.8L1569.3 731.2L1554.8 679.7L1543.6 645.9L1549.8 680.9L1560.7 733.3L1575.8 799.8L1587.4 845.0L1593.4 868.5L1615.5 1000.2Z" fill="#6aa272"/><path d="M1632.9 1000.0L1632.6 904.5L1634.0 888.4L1636.0 857.9L1635.5 814.0L1633.3 780.0L1630.3 757.6L1627.5 780.0L1625.7 814.0L1625.7 858.0L1627.9 888.5L1629.4 904.5L1629.7 1000.0Z" fill="#66a678"/><path d="M1628.5 1000.0L1629.3 909.4L1631.4 892.0L1634.2 858.7L1634.5 810.6L1632.7 773.2L1629.8 748.5L1626.2 773.1L1623.4 810.4L1622.5 858.6L1624.5 891.9L1626.2 909.4L1625.3 1000.0Z" fill="#44805c"/><path d="M1631.2 999.9L1622.7 860.6L1622.9 839.0L1621.9 797.6L1616.8 737.6L1610.7 691.1L1604.9 660.4L1604.6 691.6L1606.4 738.5L1611.0 798.5L1616.3 839.5L1619.5 860.9L1628.0 1000.1Z" fill="#66a678"/><path d="M1618.9 999.8L1606.4 906.8L1604.0 881.1L1597.3 832.3L1582.4 762.3L1567.8 708.5L1555.9 673.4L1561.5 709.9L1571.7 764.6L1586.0 834.5L1597.2 882.3L1603.3 907.3L1615.7 1000.2Z" fill="#5a9a6e"/><path d="M1634.7 1000.0L1636.1 895.2L1638.0 875.8L1640.9 839.8L1642.1 789.7L1641.3 752.1L1639.3 727.8L1635.5 751.9L1632.3 789.4L1630.6 839.5L1631.8 875.6L1632.9 895.1L1631.5 1000.0Z" fill="#44805c"/><path d="M1638.1 1000.0L1637.9 887.5L1639.3 871.5L1641.3 841.7L1640.9 800.0L1638.8 768.7L1635.9 748.4L1633.1 768.7L1631.2 800.0L1631.1 841.7L1633.2 871.5L1634.7 887.5L1634.9 1000.0Z" fill="#3d7554"/><path d="M1643.7 1000.4L1661.7 946.5L1666.6 933.6L1677.5 907.6L1693.1 866.1L1705.3 831.4L1713.0 807.1L1702.1 830.1L1687.7 864.1L1671.9 905.5L1663.2 932.4L1658.7 945.5L1640.7 999.6Z" fill="#5a9a6e"/><path d="M1624.7 999.9L1619.0 940.5L1618.6 923.0L1616.1 889.0L1607.5 839.0L1598.0 799.8L1589.6 773.9L1591.6 801.0L1596.6 840.9L1604.6 890.7L1611.7 923.9L1615.8 940.9L1621.5 1000.1Z" fill="#78b388"/><path d="M1624.4 999.9L1610.1 890.5L1609.0 872.3L1605.2 838.7L1595.4 792.2L1585.2 757.6L1576.6 735.8L1578.8 759.2L1584.4 794.5L1593.6 840.9L1602.0 873.6L1607.0 891.0L1621.2 1000.1Z" fill="#66a678"/><path d="M1632.9 1000.0L1635.4 920.8L1637.6 901.5L1641.4 865.2L1644.1 813.9L1644.9 774.9L1644.0 749.4L1639.3 774.5L1634.8 813.3L1631.5 864.7L1631.6 901.2L1632.2 920.7L1629.7 1000.0Z" fill="#66a678"/><path d="M1628.7 1000.0L1624.4 891.5L1623.9 863.9L1622.3 811.6L1616.4 736.8L1609.7 679.5L1603.7 642.0L1604.6 679.9L1607.8 737.5L1613.3 812.2L1618.5 864.2L1621.2 891.7L1625.5 1000.0Z" fill="#6aa272"/><path d="M1629.7 1000.0L1630.7 873.1L1632.2 853.0L1634.6 815.8L1635.0 763.9L1633.7 725.2L1631.3 700.2L1628.2 725.1L1625.7 763.8L1624.8 815.7L1626.3 853.0L1627.5 873.0L1626.5 1000.0Z" fill="#78b388"/><path d="M1638.9 1000.0L1639.2 889.2L1640.7 872.8L1642.9 842.1L1642.9 798.9L1641.1 766.2L1638.4 744.9L1635.4 766.1L1633.2 798.8L1632.7 842.0L1634.6 872.7L1636.0 889.1L1635.7 1000.0Z" fill="#66a678"/><path d="M1637.9 1000.0L1638.4 941.9L1639.6 928.0L1641.7 901.8L1642.2 864.7L1641.2 836.4L1639.3 817.9L1636.4 836.3L1634.1 864.5L1633.1 901.7L1634.4 927.9L1635.2 941.9L1634.7 1000.0Z" fill="#6aa272"/><path d="M1628.5 999.9L1617.2 878.2L1615.9 856.6L1612.6 815.4L1604.4 756.5L1596.0 711.2L1588.9 681.6L1590.9 711.9L1595.7 757.7L1603.5 816.6L1610.4 857.2L1614.0 878.6L1625.3 1000.1Z" fill="#6aa272"/><path d="M1643.3 1000.1L1658.4 834.5L1663.1 811.8L1671.7 770.0L1681.8 711.9L1688.5 668.6L1691.6 640.4L1682.7 667.4L1672.0 710.0L1661.3 768.3L1656.9 810.9L1655.2 834.1L1640.1 999.9Z" fill="#66a678"/><path d="M1642.3 1000.1L1658.4 856.5L1662.2 830.9L1671.4 781.9L1684.5 710.3L1694.8 654.4L1701.3 617.1L1692.1 653.8L1679.9 709.4L1666.5 781.0L1659.2 830.4L1655.2 856.1L1639.1 999.9Z" fill="#558f68"/><path d="M1619.1 999.8L1609.0 953.7L1604.3 937.1L1595.1 901.9L1577.3 845.4L1560.7 797.6L1548.2 764.5L1558.3 798.4L1573.3 846.7L1590.8 903.2L1601.7 937.8L1605.9 954.5L1616.0 1000.2Z" fill="#78b388"/><path d="M1635.5 1000.0L1640.1 848.7L1642.6 824.9L1646.6 779.4L1649.5 713.0L1650.1 661.2L1649.0 626.8L1644.2 660.9L1639.6 712.5L1636.2 778.9L1636.3 824.7L1636.9 848.6L1632.3 1000.0Z" fill="#66a678"/><path d="M1630.3 1000.0L1626.1 864.0L1626.2 843.6L1625.9 806.0L1622.1 754.6L1617.4 716.8L1612.7 692.9L1612.3 717.3L1613.5 755.2L1616.7 806.6L1620.7 843.9L1622.9 864.1L1627.1 1000.0Z" fill="#558f68"/><path d="M1631.9 1000.0L1627.0 849.2L1627.7 824.2L1627.8 776.9L1623.9 709.9L1618.6 658.9L1613.3 625.7L1612.2 659.3L1613.0 710.6L1616.3 777.5L1620.9 824.5L1623.8 849.3L1628.7 1000.0Z" fill="#558f68"/><path d="M1639.3 1000.1L1650.9 833.2L1653.0 808.5L1658.4 761.9L1665.1 695.5L1669.8 644.7L1672.2 611.3L1667.0 644.4L1660.4 695.0L1653.4 761.4L1650.0 808.2L1647.7 833.0L1636.1 999.9Z" fill="#66a678"/><path d="M1635.3 1000.0L1634.1 881.5L1634.8 863.6L1636.0 830.6L1635.0 785.2L1632.6 751.7L1629.7 730.2L1627.7 751.8L1626.7 785.4L1627.3 830.7L1629.6 863.7L1630.9 881.6L1632.1 1000.0Z" fill="#3d7554"/><path d="M1642.7 1000.2L1662.3 871.0L1667.9 849.6L1678.6 810.2L1692.2 755.2L1701.8 713.9L1707.1 686.9L1696.7 712.4L1683.5 752.9L1669.4 808.0L1662.4 848.5L1659.2 870.4L1639.6 999.8Z" fill="#82b98e"/><path d="M1621.0 999.5L1606.0 965.1L1599.0 951.8L1584.9 922.6L1558.8 874.2L1534.8 832.4L1517.1 803.3L1532.8 833.5L1555.4 876.0L1581.4 924.4L1596.9 952.9L1603.1 966.5L1618.0 1000.5Z" fill="#3d7554"/><path d="M1623.7 999.9L1616.2 927.2L1615.3 908.4L1611.9 872.3L1602.0 819.7L1591.5 778.9L1582.5 752.1L1585.2 780.2L1591.4 821.8L1600.7 874.2L1608.6 909.4L1613.0 927.7L1620.5 1000.1Z" fill="#44805c"/><path d="M1620.9 999.7L1607.0 946.6L1602.3 931.0L1592.7 898.6L1574.3 847.6L1557.2 805.2L1544.3 776.1L1554.1 806.3L1569.0 849.6L1587.1 900.6L1598.9 932.1L1604.0 947.6L1617.7 1000.3Z" fill="#66a678"/><path d="M1623.3 999.5L1614.1 970.0L1611.2 962.5L1606.9 946.3L1598.6 920.7L1590.9 899.4L1585.0 884.7L1588.8 900.0L1595.0 921.9L1603.1 947.5L1609.0 963.2L1611.0 971.0L1620.2 1000.5Z" fill="#6aa272"/><path d="M1637.2 1000.0L1640.4 918.3L1643.3 897.5L1648.3 858.8L1652.6 804.5L1654.6 763.6L1654.4 736.9L1648.3 762.9L1642.0 803.5L1637.1 858.0L1636.6 897.1L1637.2 918.2L1634.0 1000.0Z" fill="#66a678"/><path d="M1634.8 1000.0L1633.6 894.7L1634.6 871.3L1635.9 826.0L1634.6 759.6L1631.8 707.4L1628.5 672.7L1626.3 707.5L1625.3 759.7L1626.1 826.2L1628.7 871.4L1630.4 894.8L1631.6 1000.0Z" fill="#66a678"/><path d="M1615.0 999.5L1599.4 962.7L1592.2 948.6L1577.7 917.4L1551.2 865.7L1527.1 821.0L1509.4 789.7L1525.3 821.9L1548.3 867.2L1574.5 919.0L1590.3 949.5L1596.5 964.1L1611.9 1000.5Z" fill="#66a678"/><path d="M1642.1 1000.2L1662.5 919.5L1669.8 901.8L1684.3 866.3L1704.7 810.9L1720.6 765.2L1730.4 733.5L1715.1 763.0L1695.4 807.3L1674.4 862.7L1663.8 899.8L1659.4 918.5L1638.9 999.8Z" fill="#5a9a6e"/><path d="M1632.5 1000.0L1630.2 892.2L1630.3 863.0L1630.0 808.9L1626.5 734.3L1621.9 679.0L1617.5 643.6L1617.1 679.3L1618.4 734.7L1621.5 809.3L1625.1 863.2L1627.0 892.3L1629.3 1000.0Z" fill="#82b98e"/><path d="M1634.3 999.9L1627.4 885.7L1627.2 865.0L1625.7 826.4L1619.6 772.6L1612.7 732.2L1606.3 706.3L1606.8 733.0L1609.7 773.7L1615.3 827.5L1621.0 865.6L1624.2 886.0L1631.1 1000.1Z" fill="#5a9a6e"/><path d="M1626.1 999.9L1616.1 866.9L1614.7 841.2L1611.1 792.8L1602.1 724.3L1592.8 672.2L1585.0 638.5L1587.5 673.0L1593.1 725.5L1601.7 793.9L1609.0 841.8L1612.9 867.2L1622.9 1000.1Z" fill="#66a678"/><path d="M1639.1 1000.0L1643.6 877.4L1646.5 849.3L1651.3 796.2L1655.4 720.7L1657.1 662.8L1656.7 624.9L1651.2 662.4L1645.5 720.0L1640.8 795.7L1640.2 849.0L1640.4 877.2L1635.9 1000.0Z" fill="#558f68"/><path d="M1624.5 999.9L1613.9 882.8L1611.9 859.9L1607.0 817.4L1595.5 758.8L1584.1 715.4L1574.7 687.9L1579.0 716.6L1586.8 760.6L1597.8 819.0L1606.4 860.8L1610.7 883.3L1621.3 1000.1Z" fill="#5a9a6e"/><path d="M1636.3 1000.0L1633.7 925.3L1634.2 905.4L1634.1 867.5L1630.2 813.2L1625.1 771.4L1620.0 744.1L1619.4 771.9L1620.6 813.9L1623.9 868.1L1628.1 905.7L1630.5 925.4L1633.1 1000.0Z" fill="#44805c"/><path d="M1628.7 999.8L1618.0 928.9L1615.3 906.8L1608.3 863.7L1592.8 800.1L1577.7 750.1L1565.6 716.9L1572.2 751.5L1583.5 802.5L1598.3 865.9L1609.3 907.9L1614.9 929.4L1625.5 1000.2Z" fill="#66a678"/><path d="M1630.5 1000.0L1630.5 914.4L1632.3 900.6L1634.5 874.1L1634.3 835.5L1632.1 805.4L1629.0 785.4L1625.8 805.4L1623.6 835.5L1623.3 874.1L1625.5 900.6L1627.3 914.4L1627.3 1000.0Z" fill="#44805c"/><path d="M1641.3 1000.2L1667.2 845.2L1674.5 821.6L1687.8 776.8L1705.1 712.2L1717.6 662.1L1724.6 628.8L1711.4 660.2L1694.6 709.2L1676.7 774.0L1667.8 820.0L1664.1 844.5L1638.1 999.8Z" fill="#3d7554"/><path d="M1635.2 1000.1L1650.5 829.9L1655.3 806.7L1663.5 763.6L1672.5 702.8L1677.9 656.9L1680.0 626.8L1671.6 655.8L1661.7 701.1L1652.1 761.9L1648.5 805.9L1647.4 829.5L1632.0 999.9Z" fill="#44805c"/><path d="M1626.5 999.9L1616.7 899.7L1614.8 870.3L1609.7 814.2L1597.8 733.0L1585.9 670.1L1576.1 628.8L1580.1 671.1L1587.9 734.5L1599.3 815.6L1608.5 871.1L1613.5 900.0L1623.3 1000.1Z" fill="#44805c"/><path d="M1638.0 1000.0L1640.5 934.6L1643.4 916.6L1648.0 881.5L1651.4 829.3L1652.4 787.6L1651.5 759.6L1645.8 787.1L1640.2 828.4L1636.2 880.7L1636.4 916.2L1637.3 934.4L1634.8 1000.0Z" fill="#4e8c64"/><path d="M1643.0 1000.2L1666.8 881.6L1671.9 863.1L1683.6 828.4L1700.6 778.4L1714.0 739.7L1722.6 714.1L1711.4 738.7L1696.1 776.8L1678.9 826.9L1669.1 862.3L1663.7 880.8L1639.8 999.8Z" fill="#4e8c64"/><path d="M1635.1 1000.1L1638.2 936.9L1640.5 920.9L1644.7 889.9L1648.2 843.6L1649.6 806.9L1649.2 782.2L1644.2 806.4L1639.2 842.9L1635.2 889.1L1634.8 920.5L1635.0 936.7L1631.9 999.9Z" fill="#3d7554"/><path d="M1633.4 1000.0L1633.3 873.9L1634.8 845.6L1636.9 793.2L1636.6 720.8L1634.5 667.1L1631.5 632.7L1628.6 667.1L1626.6 720.8L1626.4 793.2L1628.5 845.6L1630.1 873.9L1630.2 1000.0Z" fill="#66a678"/><path d="M1629.3 1000.0L1628.7 954.1L1630.1 940.1L1631.6 912.9L1630.4 872.9L1627.5 841.4L1623.9 820.5L1621.5 841.6L1620.3 873.2L1621.0 913.1L1623.7 940.2L1625.5 954.1L1626.1 1000.0Z" fill="#82b98e"/><path d="M1782.7 1001L1777.5 902.6M1796.6 1001L1797.3 920.5M1806.7 1001L1811.6 913.0" stroke="#6fa878" stroke-width="3.5" fill="none"/><path d="M1772.5 1001L1762.7 903.4M1786.2 1001L1781.9 885.9M1812.1 1001L1818.7 917.5" stroke="#82b88a" stroke-width="3.5" fill="none"/><path d="M1775.6 1001L1765.9 888.2M1801.9 1001L1805.7 885.9" stroke="#5f9a6c" stroke-width="3.5" fill="none"/><path d="M1793.1 1001L1792.5 912.5M1816.7 1001L1829.0 878.5" stroke="#8fc094" stroke-width="3.5" fill="none"/><path d="M1801.4 1001.1L1810.4 896.9L1813.5 881.0L1819.2 850.6L1824.9 805.9L1828.1 770.8L1829.0 747.3L1822.9 770.0L1816.0 804.6L1809.8 849.4L1807.8 880.3L1807.2 896.5L1798.2 1000.9Z" fill="#5a9a6e"/><path d="M1791.3 1000.8L1777.2 912.1L1774.6 891.5L1768.0 851.6L1753.7 793.4L1739.7 747.9L1728.5 718.0L1734.0 749.4L1744.0 795.8L1757.8 853.9L1768.5 892.8L1774.1 912.8L1788.2 1001.2Z" fill="#66a678"/><path d="M1804.0 1001.2L1819.1 926.0L1824.7 909.3L1835.9 876.2L1851.3 824.6L1863.0 782.2L1870.0 752.9L1858.0 780.5L1842.7 821.9L1826.8 873.5L1819.2 907.9L1816.0 925.2L1800.9 1000.8Z" fill="#66a678"/><path d="M1795.2 1000.9L1787.5 886.6L1787.6 864.9L1786.2 823.3L1779.9 762.5L1772.7 715.0L1765.9 683.6L1766.1 715.7L1768.9 763.6L1774.5 824.4L1780.6 865.5L1784.3 886.9L1792.0 1001.1Z" fill="#558f68"/><path d="M1799.2 1001.0L1801.7 944.3L1804.2 931.3L1808.0 906.0L1810.4 868.0L1810.6 837.6L1809.2 817.1L1804.5 837.1L1800.0 867.3L1797.1 905.3L1797.6 930.9L1798.5 944.1L1796.0 1001.0Z" fill="#3d7554"/><path d="M1780.1 1000.6L1753.2 909.3L1749.6 891.9L1740.9 857.8L1723.9 807.4L1708.0 767.6L1695.5 741.2L1701.9 769.7L1713.5 810.9L1730.0 861.3L1743.0 894.0L1750.1 910.3L1777.0 1001.4Z" fill="#5a9a6e"/><path d="M1802.7 1001.1L1809.5 899.4L1812.5 878.7L1818.3 838.5L1824.7 778.9L1828.7 731.6L1830.2 699.8L1823.7 730.9L1816.2 777.9L1809.4 837.6L1807.1 878.1L1806.3 899.1L1799.5 1000.9Z" fill="#82b98e"/><path d="M1805.9 1001.4L1817.0 955.7L1819.9 943.8L1826.9 919.5L1836.7 879.9L1844.2 846.2L1848.7 822.6L1841.5 845.5L1832.1 878.7L1822.1 918.3L1816.9 943.1L1813.9 955.0L1802.8 1000.6Z" fill="#3d7554"/><path d="M1793.7 1001.0L1798.0 928.0L1801.0 915.7L1805.6 891.9L1809.0 857.0L1809.8 829.6L1808.6 811.3L1803.1 828.9L1797.7 855.8L1793.7 890.7L1793.9 915.0L1794.8 927.8L1790.5 1001.0Z" fill="#6aa272"/><path d="M1785.1 1000.9L1773.7 877.6L1771.8 849.2L1766.3 797.0L1753.2 726.3L1740.0 674.9L1729.3 642.6L1733.8 676.3L1742.6 728.4L1755.0 798.8L1765.1 850.1L1770.5 878.0L1781.9 1001.1Z" fill="#78b388"/><path d="M1800.1 1001.1L1807.8 905.5L1811.9 881.0L1819.5 833.9L1828.6 765.3L1834.8 711.7L1837.6 675.9L1829.1 710.8L1819.0 763.9L1809.4 832.7L1805.7 880.3L1804.6 905.2L1796.9 1000.9Z" fill="#44805c"/><path d="M1795.9 1001.0L1790.5 878.6L1791.1 859.4L1790.7 823.4L1786.3 772.8L1780.6 734.7L1775.1 710.1L1774.4 735.3L1775.7 773.7L1779.5 824.2L1784.3 859.8L1787.3 878.8L1792.7 1001.0Z" fill="#558f68"/><path d="M1808.0 1001.1L1821.7 841.3L1826.4 817.6L1834.8 773.0L1844.2 709.5L1850.1 660.8L1852.5 628.8L1843.8 659.7L1833.4 707.7L1823.4 771.4L1819.6 816.8L1818.5 840.9L1804.8 1000.9Z" fill="#78b388"/><path d="M1805.7 1001.6L1828.3 947.4L1833.9 934.3L1846.5 908.1L1865.0 866.4L1879.8 831.5L1889.4 807.1L1877.3 830.3L1860.7 864.5L1841.9 906.1L1831.1 933.1L1825.3 946.1L1802.7 1000.4Z" fill="#5a9a6e"/><path d="M1791.9 1001.0L1789.8 953.1L1790.1 940.7L1790.1 916.8L1786.9 882.1L1782.5 855.2L1778.1 837.5L1777.5 855.7L1778.4 882.9L1781.2 917.5L1784.8 941.1L1786.6 953.3L1788.7 1001.0Z" fill="#66a678"/><path d="M1790.7 1001.0L1786.3 907.6L1786.6 886.0L1785.6 845.5L1779.7 788.8L1772.4 746.1L1765.6 718.5L1765.9 746.9L1768.6 790.0L1774.0 846.6L1779.6 886.5L1783.1 907.8L1787.5 1001.0Z" fill="#6aa272"/><path d="M1796.8 1001.0L1795.0 904.5L1796.0 887.6L1797.1 855.3L1795.5 809.0L1792.3 773.3L1788.6 749.8L1786.5 773.5L1785.7 809.3L1786.9 855.6L1789.8 887.7L1791.8 904.6L1793.6 1001.0Z" fill="#558f68"/><path d="M1793.7 1001.0L1792.0 893.3L1793.4 874.7L1795.0 839.5L1793.5 789.5L1790.2 751.4L1786.3 726.5L1783.8 751.6L1782.5 789.8L1783.4 839.8L1786.5 874.8L1788.8 893.4L1790.5 1001.0Z" fill="#6aa272"/><path d="M1795.6 1000.9L1790.2 924.5L1790.5 904.3L1789.3 865.5L1783.2 809.0L1775.9 765.0L1769.2 736.0L1769.3 765.8L1772.0 810.2L1777.5 866.6L1783.4 904.9L1787.0 924.8L1792.4 1001.1Z" fill="#44805c"/><path d="M1791.9 1000.9L1780.1 846.4L1778.8 821.9L1774.9 776.3L1764.9 712.7L1754.6 665.1L1745.9 634.6L1748.8 666.2L1755.0 714.3L1764.5 777.8L1772.5 822.7L1776.9 846.7L1788.7 1001.1Z" fill="#82b98e"/><path d="M1784.5 1000.9L1776.6 895.9L1775.2 869.3L1770.9 818.2L1759.6 743.4L1747.9 684.9L1738.2 646.2L1742.1 685.9L1749.8 744.9L1760.5 819.6L1768.9 870.1L1773.4 896.2L1781.3 1001.1Z" fill="#82b98e"/><path d="M1798.0 1001.1L1804.5 927.1L1808.4 908.2L1814.9 871.4L1821.5 815.9L1825.2 771.4L1826.2 741.3L1818.9 770.5L1810.8 814.5L1803.6 870.0L1801.6 907.5L1801.4 926.7L1794.8 1000.9Z" fill="#66a678"/><path d="M1799.3 1001.1L1806.2 927.3L1809.3 915.2L1814.4 892.5L1818.8 859.9L1820.6 834.9L1820.2 818.3L1814.6 833.9L1808.7 858.4L1803.8 891.0L1802.9 914.4L1803.1 926.9L1796.1 1000.9Z" fill="#5a9a6e"/><path d="M1803.1 1001.2L1825.5 872.8L1831.8 853.9L1843.8 819.1L1859.5 770.5L1870.9 733.9L1877.4 709.9L1865.5 731.8L1850.3 767.2L1834.0 816.1L1825.8 852.3L1822.4 872.1L1799.9 1000.8Z" fill="#5a9a6e"/><path d="M1802.1 1001.1L1809.5 901.0L1812.9 879.6L1818.9 837.8L1824.6 775.6L1827.5 726.0L1827.9 692.7L1821.4 725.4L1814.4 774.6L1808.1 836.8L1806.5 879.0L1806.3 900.8L1798.9 1000.9Z" fill="#558f68"/><path d="M1798.7 1001.0L1802.5 867.0L1805.0 841.9L1809.1 793.9L1812.1 724.4L1812.8 670.4L1811.8 634.6L1807.0 670.1L1802.1 723.9L1798.6 793.5L1798.7 841.6L1799.3 866.9L1795.5 1001.0Z" fill="#78b388"/><path d="M1796.9 1001.0L1803.2 855.8L1806.5 832.6L1811.7 789.1L1816.1 727.7L1817.9 681.2L1817.4 650.8L1811.5 680.6L1805.3 726.9L1800.3 788.3L1799.7 832.1L1800.1 855.6L1793.7 1001.0Z" fill="#78b388"/><path d="M1787.0 1000.9L1781.6 947.4L1780.6 932.3L1777.4 904.3L1768.3 865.5L1758.6 836.8L1750.4 818.7L1753.5 838.3L1759.5 867.7L1768.0 906.2L1775.0 933.3L1778.5 947.8L1783.8 1001.1Z" fill="#4e8c64"/><path d="M1785.5 1000.9L1771.9 892.9L1769.3 867.1L1762.7 816.8L1748.2 742.4L1734.0 683.5L1722.6 644.3L1728.3 684.7L1738.5 744.3L1752.4 818.7L1763.1 868.1L1768.7 893.4L1782.3 1001.1Z" fill="#82b98e"/><path d="M1799.2 1001.0L1802.5 929.2L1805.4 909.9L1810.4 873.0L1815.1 819.7L1817.5 778.4L1817.7 750.9L1811.6 777.7L1805.1 818.7L1799.8 872.1L1799.0 909.4L1799.3 929.0L1796.0 1001.0Z" fill="#558f68"/><path d="M1797.1 1001.0L1794.8 881.2L1795.8 854.7L1796.6 803.4L1794.4 727.9L1790.7 668.4L1786.6 628.8L1784.8 668.6L1784.4 728.2L1786.1 803.7L1789.5 854.8L1791.6 881.3L1793.9 1001.0Z" fill="#558f68"/><path d="M1800.1 1001.0L1802.0 924.3L1803.6 908.7L1806.3 878.3L1807.5 833.2L1806.9 797.6L1805.2 773.7L1801.8 797.4L1798.9 833.0L1797.2 878.0L1798.1 908.5L1798.8 924.2L1796.9 1001.0Z" fill="#82b98e"/><path d="M1796.2 1001.0L1791.8 927.2L1792.0 912.7L1791.2 885.3L1786.2 846.6L1780.1 817.2L1774.3 798.2L1774.2 818.0L1776.3 847.9L1780.7 886.5L1785.7 913.3L1788.6 927.5L1793.0 1001.0Z" fill="#44805c"/><path d="M1800.8 1001.1L1805.0 915.5L1807.6 899.0L1811.8 867.4L1815.1 821.6L1816.0 786.0L1815.2 762.4L1810.3 785.5L1805.3 820.9L1801.5 866.7L1801.4 898.6L1801.8 915.3L1797.6 1000.9Z" fill="#78b388"/><path d="M1803.8 1001.1L1807.1 948.6L1809.7 932.9L1814.7 902.3L1819.8 856.5L1822.9 820.0L1823.7 795.3L1817.7 819.3L1811.0 855.4L1805.3 901.2L1804.1 932.4L1803.9 948.3L1800.6 1000.9Z" fill="#78b388"/><path d="M1794.7 1001.0L1796.2 898.2L1798.5 870.3L1801.9 816.6L1803.2 738.3L1802.4 677.1L1800.2 636.5L1796.0 677.0L1792.3 738.0L1790.4 816.3L1791.6 870.1L1793.0 898.2L1791.5 1001.0Z" fill="#66a678"/><path d="M1793.3 1000.9L1783.3 892.8L1781.7 869.0L1777.7 824.0L1768.0 760.6L1758.2 712.7L1750.1 681.7L1753.0 713.6L1759.2 762.0L1768.4 825.3L1776.1 869.6L1780.1 893.2L1790.1 1001.1Z" fill="#66a678"/><path d="M1799.6 1001.1L1808.9 863.0L1812.9 837.6L1820.1 789.3L1828.1 719.3L1833.1 664.9L1835.1 628.8L1827.3 664.1L1818.2 718.0L1809.6 788.1L1806.6 837.0L1805.7 862.7L1796.4 1000.9Z" fill="#3d7554"/><path d="M1808.6 1001.4L1822.8 951.5L1826.9 939.6L1836.2 915.6L1849.4 877.2L1859.7 845.1L1866.1 822.6L1856.6 843.9L1844.0 875.3L1830.5 913.6L1823.5 938.5L1819.8 950.6L1805.5 1000.6Z" fill="#82b98e"/><path d="M1797.0 1001.0L1793.8 877.2L1794.7 855.2L1795.3 813.4L1792.5 753.4L1788.3 707.2L1783.7 676.9L1782.2 707.5L1782.2 753.8L1784.4 813.8L1788.2 855.5L1790.6 877.3L1793.8 1001.0Z" fill="#3d7554"/><path d="M1798.8 1001.0L1801.8 926.1L1804.1 904.3L1808.6 862.9L1813.0 803.0L1815.3 756.5L1815.7 725.7L1810.3 756.0L1804.5 802.2L1799.6 862.3L1798.7 904.0L1798.6 925.9L1795.6 1001.0Z" fill="#3d7554"/><path d="M1802.3 1001.1L1818.8 859.1L1823.7 836.4L1833.3 793.5L1845.3 731.6L1853.8 683.8L1858.4 652.0L1848.6 682.6L1836.5 729.8L1823.9 791.8L1818.1 835.5L1815.6 858.6L1799.1 1000.9Z" fill="#4e8c64"/><path d="M1796.5 1000.9L1791.1 893.7L1791.0 865.8L1789.2 813.4L1781.8 739.3L1773.5 683.0L1765.9 646.5L1767.0 683.8L1770.8 740.4L1777.6 814.4L1784.1 866.3L1787.9 893.9L1793.3 1001.1Z" fill="#4e8c64"/><path d="M1787.2 1000.9L1782.6 908.6L1782.3 881.2L1780.3 827.2L1773.1 746.4L1764.9 681.8L1757.5 638.5L1759.0 682.4L1763.2 747.3L1769.9 828.0L1776.0 881.6L1779.4 908.9L1784.1 1001.1Z" fill="#3d7554"/><path d="M1809.3 1001.2L1829.2 902.0L1835.4 884.0L1847.4 848.3L1863.2 793.4L1874.9 748.7L1881.6 718.0L1869.3 746.9L1853.6 790.5L1837.3 845.5L1829.3 882.4L1826.1 901.3L1806.1 1000.8Z" fill="#5a9a6e"/><path d="M1804.1 1001.0L1809.8 876.4L1812.6 853.3L1817.7 810.2L1822.6 749.8L1825.1 704.3L1825.5 674.7L1819.8 703.8L1813.5 749.0L1808.1 809.4L1806.8 852.9L1806.6 876.2L1800.9 1001.0Z" fill="#4e8c64"/><path d="M1803.9 1001.2L1820.3 885.2L1826.0 859.7L1837.1 811.7L1851.6 742.7L1862.2 689.5L1868.2 654.4L1857.1 688.3L1843.0 740.7L1828.0 809.8L1820.5 858.7L1817.1 884.6L1800.7 1000.8Z" fill="#6aa272"/><path d="M1796.7 1001.0L1792.7 901.0L1792.5 873.0L1790.9 820.0L1784.1 744.8L1776.2 687.4L1769.2 650.1L1770.4 688.1L1774.1 745.7L1780.4 820.9L1786.2 873.4L1789.5 901.2L1793.5 1001.0Z" fill="#558f68"/><path d="M1803.4 1001.0L1806.2 922.2L1807.9 905.0L1811.2 871.5L1813.6 821.9L1814.2 782.6L1813.3 756.3L1809.4 782.3L1805.5 821.5L1802.7 871.1L1802.8 904.7L1803.0 922.0L1800.2 1001.0Z" fill="#82b98e"/><path d="M1801.3 1001.0L1803.1 941.5L1804.6 930.7L1807.2 909.8L1808.2 878.8L1807.3 854.4L1805.4 838.0L1802.2 854.2L1799.4 878.5L1798.0 909.5L1799.1 930.5L1799.9 941.4L1798.1 1001.0Z" fill="#4e8c64"/><path d="M1779.5 1000.6L1758.1 938.4L1754.3 925.6L1745.8 900.1L1729.1 861.9L1713.4 831.3L1701.3 811.0L1708.6 833.5L1720.8 865.5L1737.1 903.8L1749.1 927.8L1755.2 939.6L1776.4 1001.4Z" fill="#78b388"/><path d="M1964.1 1002L1965.7 867.1M1969.5 1002L1973.1 901.9" stroke="#6fa878" stroke-width="3.5" fill="none"/><path d="M1942.7 1002L1934.5 905.0" stroke="#82b88a" stroke-width="3.5" fill="none"/><path d="M1958.3 1002L1957.0 907.7M1979.8 1002L1987.0 915.4" stroke="#5f9a6c" stroke-width="3.5" fill="none"/><path d="M1937.7 1002L1927.4 907.3M1973.5 1002L1977.4 931.0M1983.7 1002L1992.0 920.4" stroke="#8fc094" stroke-width="3.5" fill="none"/><path d="M1949.5 1002L1943.3 888.7M1952.8 1002L1947.6 869.3" stroke="#79b07c" stroke-width="3.5" fill="none"/><path d="M1963.7 1002.1L1970.7 885.2L1974.4 856.1L1981.1 801.2L1988.3 722.7L1992.6 662.5L1994.1 623.0L1986.8 661.9L1978.4 721.7L1970.7 800.3L1968.1 855.6L1967.5 885.0L1960.5 1001.9Z" fill="#66a678"/><path d="M1959.3 1002.0L1957.0 896.3L1957.6 870.0L1957.9 818.7L1954.7 742.2L1950.3 681.4L1945.7 640.6L1944.8 681.6L1945.4 742.6L1948.0 819.0L1951.7 870.2L1953.8 896.4L1956.1 1002.0Z" fill="#78b388"/><path d="M1974.9 1002.6L1989.9 963.6L1994.4 953.7L2003.9 933.2L2017.0 899.3L2026.9 870.3L2032.8 849.8L2023.2 868.9L2010.8 896.9L1997.4 930.6L1990.4 952.2L1987.0 962.5L1971.9 1001.4Z" fill="#82b98e"/><path d="M1978.0 1002.3L1994.8 927.8L1998.7 911.0L2008.3 877.8L2022.3 826.8L2033.5 785.2L2040.6 756.7L2031.3 784.6L2018.7 825.8L2004.5 876.8L1996.4 910.4L1991.7 927.0L1974.9 1001.7Z" fill="#44805c"/><path d="M1965.6 1002.1L1968.4 937.7L1971.3 921.5L1975.5 891.1L1978.3 848.0L1978.5 815.2L1977.0 793.7L1972.0 814.7L1967.1 847.2L1963.8 890.3L1964.2 921.1L1965.2 937.5L1962.4 1001.9Z" fill="#78b388"/><path d="M1963.8 1002.1L1971.7 910.8L1975.9 893.1L1982.9 858.7L1990.3 807.4L1994.6 766.4L1995.9 738.7L1988.0 765.3L1979.1 805.6L1971.1 857.1L1968.8 892.2L1968.6 910.4L1960.6 1001.9Z" fill="#66a678"/><path d="M1963.1 1002.1L1968.3 921.6L1971.8 902.2L1977.2 864.7L1981.9 809.4L1983.8 765.6L1983.4 736.3L1977.2 765.0L1970.8 808.3L1965.5 863.7L1964.8 901.6L1965.2 921.3L1959.9 1001.9Z" fill="#6aa272"/><path d="M1958.8 1001.9L1949.1 908.1L1946.6 880.8L1939.6 828.6L1923.8 753.5L1907.9 695.6L1895.2 657.9L1902.2 697.1L1914.0 755.7L1929.3 830.5L1940.3 881.8L1945.9 908.5L1955.6 1002.1Z" fill="#66a678"/><path d="M1947.6 1001.4L1924.0 951.0L1918.0 938.7L1905.7 913.4L1883.5 874.9L1863.5 843.6L1848.7 822.6L1860.1 845.6L1877.8 878.2L1899.6 916.8L1914.3 940.7L1921.2 952.5L1944.6 1002.6Z" fill="#5a9a6e"/><path d="M1979.8 1002.4L2011.4 908.3L2019.9 891.5L2035.8 858.0L2057.4 805.8L2073.6 763.1L2083.3 733.5L2067.7 760.5L2047.4 801.5L2025.2 853.6L2013.4 889.0L2008.4 907.2L1976.7 1001.6Z" fill="#44805c"/><path d="M1964.7 1002.0L1965.8 885.4L1968.1 856.5L1971.2 802.8L1972.2 728.1L1971.0 672.1L1968.5 636.0L1964.5 672.0L1961.1 727.9L1959.5 802.7L1961.1 856.4L1962.6 885.3L1961.5 1002.0Z" fill="#44805c"/><path d="M1962.7 1002.0L1962.3 925.2L1963.8 908.1L1965.7 875.3L1965.1 827.8L1962.7 790.9L1959.5 766.5L1956.7 790.9L1955.0 827.9L1955.1 875.4L1957.4 908.1L1959.1 925.2L1959.5 1002.0Z" fill="#44805c"/><path d="M1961.9 1002.0L1957.5 886.1L1957.5 857.8L1956.1 803.9L1949.9 726.2L1942.6 666.2L1935.9 626.8L1936.7 666.7L1939.9 727.0L1945.6 804.6L1951.2 858.2L1954.3 886.3L1958.7 1002.0Z" fill="#44805c"/><path d="M1972.7 1002.1L1981.1 912.3L1985.0 891.2L1991.9 849.9L1999.5 788.4L2004.1 739.4L2005.7 706.3L1998.2 738.6L1989.6 787.1L1981.5 848.7L1978.7 890.5L1977.9 912.0L1969.5 1001.9Z" fill="#78b388"/><path d="M1966.0 1002.0L1964.1 947.1L1964.4 931.6L1964.6 902.6L1961.9 861.9L1958.0 831.4L1954.0 811.7L1953.1 831.8L1953.6 862.5L1955.9 903.1L1959.2 931.9L1960.9 947.3L1962.8 1002.0Z" fill="#558f68"/><path d="M1969.7 1002.1L1974.5 927.9L1977.2 915.0L1981.3 890.0L1984.1 852.8L1984.5 823.3L1983.2 803.5L1978.4 822.8L1973.8 851.9L1970.4 889.1L1970.6 914.5L1971.3 927.7L1966.5 1001.9Z" fill="#4e8c64"/><path d="M1958.8 1001.9L1949.3 900.7L1947.5 872.3L1942.5 817.9L1930.7 739.4L1918.7 678.5L1908.8 638.5L1912.9 679.5L1920.8 740.9L1932.1 819.4L1941.3 873.1L1946.2 901.1L1955.6 1002.1Z" fill="#78b388"/><path d="M1963.0 1001.9L1953.4 871.9L1952.6 850.8L1949.6 811.2L1941.1 755.7L1932.1 713.8L1924.3 686.9L1926.3 714.9L1931.3 757.2L1939.2 812.6L1946.3 851.5L1950.3 872.3L1959.8 1002.1Z" fill="#82b98e"/><path d="M1967.4 1002.0L1965.8 947.4L1966.8 933.3L1967.8 907.5L1965.7 872.4L1962.0 846.8L1958.0 830.6L1956.1 847.2L1955.7 873.0L1957.3 908.0L1960.5 933.6L1962.6 947.5L1964.2 1002.0Z" fill="#78b388"/><path d="M1968.2 1002.0L1972.8 884.7L1975.0 867.5L1978.9 835.0L1981.8 788.5L1982.7 752.8L1981.9 729.2L1977.5 752.3L1972.9 787.8L1969.5 834.4L1969.4 867.1L1969.6 884.5L1965.0 1002.0Z" fill="#6aa272"/><path d="M1960.0 1002.0L1964.1 876.1L1967.0 854.2L1971.3 812.9L1974.2 754.6L1974.6 710.1L1973.3 681.1L1968.2 709.7L1963.2 753.9L1959.7 812.3L1960.0 853.8L1960.9 875.9L1956.8 1002.0Z" fill="#66a678"/><path d="M1960.2 1002.0L1958.9 908.9L1959.9 879.4L1961.0 821.2L1959.0 733.3L1955.4 662.8L1951.4 615.2L1949.5 662.9L1949.0 733.6L1950.5 821.4L1953.6 879.5L1955.7 909.0L1957.0 1002.0Z" fill="#82b98e"/><path d="M1959.7 1002.0L1959.2 922.6L1960.6 901.6L1962.4 861.2L1961.6 801.8L1959.0 755.2L1955.6 724.1L1953.0 755.2L1951.4 801.9L1951.7 861.3L1954.2 901.7L1956.0 922.6L1956.5 1002.0Z" fill="#5a9a6e"/><path d="M1968.3 1002.0L1968.9 918.7L1970.8 897.4L1973.4 857.7L1974.0 802.1L1972.5 760.2L1970.0 733.1L1966.5 760.1L1963.6 801.9L1962.5 857.5L1964.2 897.4L1965.7 918.7L1965.1 1002.0Z" fill="#78b388"/><path d="M1957.6 1001.9L1949.7 931.2L1948.0 914.7L1943.7 884.0L1933.2 842.3L1922.6 811.8L1913.8 792.8L1917.7 813.3L1924.9 844.5L1934.8 886.0L1942.6 915.6L1946.5 931.7L1954.4 1002.1Z" fill="#3d7554"/><path d="M1962.4 1002.1L1969.1 940.9L1972.6 928.3L1978.4 903.4L1984.0 866.0L1986.8 836.0L1987.2 815.6L1980.7 835.0L1973.6 864.3L1967.4 901.8L1966.0 927.3L1965.9 940.5L1959.2 1001.9Z" fill="#66a678"/><path d="M1962.0 1002.0L1960.5 896.7L1961.7 880.9L1963.1 851.7L1961.8 811.5L1958.8 781.8L1955.3 762.8L1953.0 782.0L1951.9 811.8L1952.7 852.0L1955.5 881.0L1957.3 896.8L1958.8 1002.0Z" fill="#66a678"/><path d="M1955.3 1001.6L1936.8 932.9L1933.4 917.1L1925.9 885.8L1910.8 838.8L1896.6 801.2L1885.5 776.1L1891.5 802.9L1902.2 841.6L1916.8 888.6L1928.0 918.7L1933.7 933.8L1952.2 1002.4Z" fill="#66a678"/><path d="M1967.1 1002.1L1980.6 847.0L1986.0 819.4L1995.7 768.4L2007.4 697.9L2015.3 645.4L2019.3 611.3L2009.0 644.1L1996.6 695.9L1984.3 766.6L1979.2 818.5L1977.5 846.6L1963.9 1001.9Z" fill="#78b388"/><path d="M1955.9 1001.9L1950.3 908.1L1950.4 886.8L1949.0 845.1L1942.6 783.4L1935.2 734.4L1928.3 701.8L1928.9 735.1L1932.0 784.5L1937.8 846.2L1943.7 887.3L1947.2 908.4L1952.7 1002.1Z" fill="#82b98e"/><path d="M1964.1 1002.0L1968.4 926.6L1971.1 910.1L1976.2 878.9L1981.3 834.0L1984.1 799.4L1984.8 776.4L1978.8 798.6L1972.3 832.9L1966.7 877.8L1965.4 909.6L1965.2 926.3L1960.9 1002.0Z" fill="#82b98e"/><path d="M1962.0 1002.0L1963.6 941.3L1965.9 924.2L1969.3 891.0L1971.1 841.2L1970.7 801.5L1968.9 774.8L1964.5 801.2L1960.6 840.8L1958.2 890.5L1959.2 924.0L1960.4 941.2L1958.8 1002.0Z" fill="#82b98e"/><path d="M1963.5 1001.9L1960.4 940.6L1961.1 925.6L1961.0 896.2L1957.1 852.7L1951.8 818.2L1946.6 795.2L1945.8 818.8L1946.8 853.6L1950.2 897.1L1954.6 926.0L1957.2 940.9L1960.3 1002.1Z" fill="#3d7554"/><path d="M1971.5 1002.1L1983.0 913.1L1988.7 888.5L1999.6 841.2L2014.1 771.9L2024.8 717.5L2030.9 681.1L2019.1 716.1L2004.3 769.7L1989.3 839.1L1982.5 887.4L1979.9 912.6L1968.4 1001.9Z" fill="#4e8c64"/><path d="M1960.6 1002.0L1961.0 939.0L1962.7 926.1L1965.0 901.1L1965.1 864.0L1963.4 834.7L1960.6 815.1L1957.4 834.6L1955.1 863.9L1954.5 901.0L1956.4 926.1L1957.8 939.0L1957.4 1002.0Z" fill="#82b98e"/><path d="M1948.4 1001.6L1928.0 943.6L1922.2 929.8L1911.4 901.2L1892.8 856.8L1876.2 820.4L1864.2 795.5L1874.2 821.2L1889.3 858.3L1907.7 902.7L1919.9 930.7L1925.0 944.8L1945.4 1002.4Z" fill="#6aa272"/><path d="M1958.9 1001.4L1944.8 971.2L1941.3 963.2L1934.2 946.4L1920.2 920.4L1907.2 899.0L1897.1 884.7L1903.7 900.9L1914.4 923.5L1928.0 949.6L1937.6 965.1L1942.0 972.7L1955.9 1002.6Z" fill="#5a9a6e"/><path d="M1960.9 1001.9L1948.0 847.5L1946.6 823.4L1942.7 777.9L1933.0 713.6L1923.2 664.8L1914.9 633.1L1917.7 665.7L1923.6 715.0L1932.8 779.2L1940.6 824.1L1944.9 847.8L1957.7 1002.1Z" fill="#44805c"/><path d="M1962.8 1002.0L1961.9 939.4L1962.8 924.4L1963.9 896.6L1962.5 858.5L1959.6 830.3L1956.2 812.3L1954.4 830.5L1953.7 858.8L1954.7 896.9L1957.2 924.5L1958.7 939.4L1959.6 1002.0Z" fill="#82b98e"/><path d="M1965.2 1002.0L1969.3 894.2L1972.4 866.9L1977.7 816.5L1982.7 746.8L1985.1 695.0L1985.4 661.5L1979.1 694.4L1972.5 746.0L1966.9 815.8L1965.9 866.5L1966.1 894.0L1962.0 1002.0Z" fill="#6aa272"/><path d="M1955.8 1002.0L1952.3 884.6L1952.7 861.3L1952.4 818.2L1948.5 758.5L1943.4 714.1L1938.4 685.7L1937.9 714.6L1939.1 759.1L1942.6 818.7L1946.7 861.6L1949.1 884.7L1952.6 1002.0Z" fill="#6aa272"/><path d="M1953.2 1001.9L1940.0 893.5L1937.1 869.6L1929.5 824.8L1912.8 762.1L1896.5 715.1L1883.6 685.0L1890.9 716.9L1903.2 764.9L1919.2 827.3L1930.9 870.9L1936.9 894.0L1950.1 1002.1Z" fill="#558f68"/><path d="M1961.2 1002.0L1955.0 890.4L1954.5 871.3L1953.1 835.3L1947.7 784.4L1941.7 745.9L1936.2 721.0L1936.8 746.5L1939.5 785.3L1944.4 836.1L1949.3 871.7L1951.8 890.6L1958.0 1002.0Z" fill="#66a678"/><path d="M1970.1 1002.1L1979.3 887.6L1982.8 865.7L1989.5 824.0L1997.4 763.4L2002.5 716.2L2004.8 684.8L1997.5 715.4L1988.9 762.2L1980.6 822.9L1977.4 865.1L1976.1 887.3L1966.9 1001.9Z" fill="#82b98e"/><path d="M1962.2 1001.9L1956.6 946.5L1955.9 933.8L1953.9 909.4L1947.5 874.5L1940.5 847.7L1934.4 830.3L1935.7 848.7L1939.4 876.0L1945.3 910.8L1950.7 934.5L1953.4 946.9L1959.0 1002.1Z" fill="#558f68"/><path d="M1956.3 1001.9L1950.8 923.6L1950.9 909.0L1950.0 881.5L1944.9 843.3L1938.8 814.7L1933.1 796.5L1933.0 815.6L1935.0 844.6L1939.6 882.7L1944.6 909.6L1947.6 923.9L1953.1 1002.1Z" fill="#3d7554"/><path d="M1968.6 1002.0L1971.1 856.4L1973.6 830.0L1977.2 779.2L1979.0 704.8L1978.6 646.3L1976.6 607.4L1972.1 646.1L1968.1 704.5L1965.7 778.9L1966.7 829.9L1967.9 856.3L1965.4 1002.0Z" fill="#5a9a6e"/><path d="M1962.1 1002.0L1962.4 942.3L1964.4 927.2L1967.0 897.6L1966.9 853.2L1964.8 817.6L1961.6 793.6L1958.1 817.6L1955.6 853.1L1955.0 897.6L1957.3 927.2L1959.2 942.3L1958.9 1002.0Z" fill="#5a9a6e"/><path d="M1967.0 1002.1L1976.5 904.5L1980.9 883.0L1989.1 842.4L1998.6 784.4L2004.9 739.9L2007.8 710.4L1998.9 738.7L1988.5 782.6L1978.4 840.8L1974.5 882.1L1973.3 904.2L1963.8 1001.9Z" fill="#44805c"/><path d="M1957.1 1002.0L1955.7 870.0L1956.3 844.2L1957.2 794.6L1955.7 722.1L1952.9 665.5L1949.8 627.9L1948.2 665.5L1947.6 722.3L1948.7 794.7L1951.2 844.3L1952.5 870.1L1953.9 1002.0Z" fill="#6aa272"/></g><text x="1548.5" y="1054.8" font-size="29" text-anchor="start" >07GY31-<tspan font-style="italic">Piz-t</tspan></text><path d="M1758.8 1048H2031.2" stroke="#231815" stroke-width="4.3"/><text x="1794" y="1089.6" font-size="29" text-anchor="start" ><tspan font-style="italic">pbx</tspan><tspan font-size="17" dy="-10">cas9</tspan><tspan dy="10">/07GY31</tspan></text><text x="1858.5" y="1125" font-size="29" text-anchor="start" ><tspan font-style="italic">-Piz-t</tspan></text></g>
</svg>
</body>
</html>
